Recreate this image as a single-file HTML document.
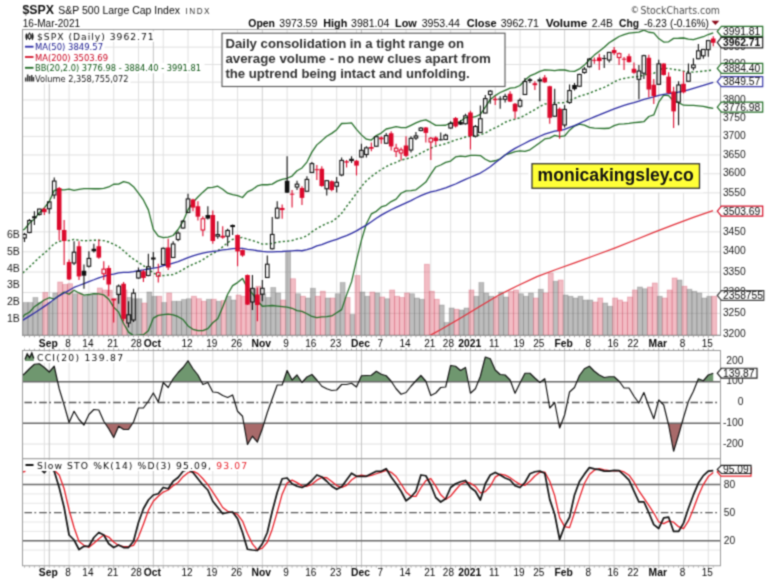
<!DOCTYPE html><html><head><meta charset="utf-8"><title>$SPX chart</title><style>html,body{margin:0;padding:0;background:#fff}svg{display:block}</style></head><body><svg width="768" height="581" viewBox="0 0 768 581" font-family='"Liberation Sans", sans-serif'>
<rect width="768" height="581" fill="#fff"/>
<defs><filter id="soft" x="0" y="0" width="100%" height="100%" filterUnits="userSpaceOnUse" primitiveUnits="userSpaceOnUse" color-interpolation-filters="sRGB"><feConvolveMatrix order="3" kernelMatrix="1 3 1 3 9 3 1 3 1" divisor="25" edgeMode="duplicate" preserveAlpha="false"/></filter></defs>
<g id="all" filter="url(#soft)">
<text x="22.5" y="14.2" font-size="12" font-weight="bold" fill="#111" textLength="31.5" lengthAdjust="spacingAndGlyphs">$SPX</text>
<text x="58.3" y="14.2" font-size="10.5" fill="#0c0c0c" textLength="121.7" lengthAdjust="spacingAndGlyphs">S&amp;P 500 Large Cap Index</text>
<text x="185.5" y="14.2" font-size="8.2" fill="#333" textLength="24" lengthAdjust="spacing">INDX</text>
<text x="22.8" y="26.6" font-size="10" fill="#0c0c0c">16-Mar-2021</text>
<text x="248.3" y="26.6" font-size="10.5" fill="#080808" font-weight="bold" textLength="26.7" lengthAdjust="spacingAndGlyphs">Open</text>
<text x="279.3" y="26.6" font-size="10.5" fill="#080808"  textLength="38" lengthAdjust="spacingAndGlyphs">3973.59</text>
<text x="323.3" y="26.6" font-size="10.5" fill="#080808" font-weight="bold" textLength="24" lengthAdjust="spacingAndGlyphs">High</text>
<text x="351" y="26.6" font-size="10.5" fill="#080808"  textLength="38.3" lengthAdjust="spacingAndGlyphs">3981.04</text>
<text x="395" y="26.6" font-size="10.5" fill="#080808" font-weight="bold" textLength="21.7" lengthAdjust="spacingAndGlyphs">Low</text>
<text x="421.7" y="26.6" font-size="10.5" fill="#080808"  textLength="38.3" lengthAdjust="spacingAndGlyphs">3953.44</text>
<text x="466.7" y="26.6" font-size="10.5" fill="#080808" font-weight="bold" textLength="30" lengthAdjust="spacingAndGlyphs">Close</text>
<text x="500.7" y="26.6" font-size="10.5" fill="#080808"  textLength="38.3" lengthAdjust="spacingAndGlyphs">3962.71</text>
<text x="545.7" y="26.6" font-size="10.5" fill="#080808" font-weight="bold" textLength="41.6" lengthAdjust="spacingAndGlyphs">Volume</text>
<text x="591.7" y="26.6" font-size="10.5" fill="#080808"  textLength="21.3" lengthAdjust="spacingAndGlyphs">2.4B</text>
<text x="619" y="26.6" font-size="10.5" fill="#080808" font-weight="bold" textLength="20" lengthAdjust="spacingAndGlyphs">Chg</text>
<text x="644" y="26.6" font-size="10.5" fill="#080808"  textLength="22.7" lengthAdjust="spacingAndGlyphs">-6.23</text>
<text x="670" y="26.6" font-size="10.5" fill="#080808"  textLength="39" lengthAdjust="spacingAndGlyphs">(-0.16%)</text>
<path d="M711.5 20.8 L719.3 20.8 L715.4 25 Z" fill="#8b0a1a"/>
<text x="630.4" y="13.2" font-size="8.6" fill="#444" font-family='"DejaVu Sans", sans-serif'>©</text>
<text x="640.5" y="13.5" font-size="10.6" fill="#4a4a4a" font-family='"DejaVu Sans", sans-serif' textLength="79.5" lengthAdjust="spacingAndGlyphs">StockCharts.com</text>
<rect x="22.5" y="29.5" width="698.0" height="306.0" fill="#fff" stroke="none"/>
<line x1="22.5" y1="334.53" x2="720.5" y2="334.53" stroke="#e0e0e0" stroke-width="1"/>
<line x1="22.5" y1="313.37" x2="720.5" y2="313.37" stroke="#e0e0e0" stroke-width="1"/>
<line x1="22.5" y1="292.53" x2="720.5" y2="292.53" stroke="#e0e0e0" stroke-width="1"/>
<line x1="22.5" y1="272.01" x2="720.5" y2="272.01" stroke="#e0e0e0" stroke-width="1"/>
<line x1="22.5" y1="251.79" x2="720.5" y2="251.79" stroke="#e0e0e0" stroke-width="1"/>
<line x1="22.5" y1="231.86" x2="720.5" y2="231.86" stroke="#e0e0e0" stroke-width="1"/>
<line x1="22.5" y1="212.22" x2="720.5" y2="212.22" stroke="#e0e0e0" stroke-width="1"/>
<line x1="22.5" y1="192.86" x2="720.5" y2="192.86" stroke="#e0e0e0" stroke-width="1"/>
<line x1="22.5" y1="173.77" x2="720.5" y2="173.77" stroke="#e0e0e0" stroke-width="1"/>
<line x1="22.5" y1="154.95" x2="720.5" y2="154.95" stroke="#e0e0e0" stroke-width="1"/>
<line x1="22.5" y1="136.38" x2="720.5" y2="136.38" stroke="#e0e0e0" stroke-width="1"/>
<line x1="22.5" y1="118.06" x2="720.5" y2="118.06" stroke="#e0e0e0" stroke-width="1"/>
<line x1="22.5" y1="99.98" x2="720.5" y2="99.98" stroke="#e0e0e0" stroke-width="1"/>
<line x1="22.5" y1="82.14" x2="720.5" y2="82.14" stroke="#e0e0e0" stroke-width="1"/>
<line x1="22.5" y1="64.53" x2="720.5" y2="64.53" stroke="#e0e0e0" stroke-width="1"/>
<line x1="22.5" y1="47.14" x2="720.5" y2="47.14" stroke="#e0e0e0" stroke-width="1"/>
<line x1="44.32" y1="29.5" x2="44.32" y2="335.5" stroke="#e0e0e0" stroke-width="1"/>
<line x1="69.09" y1="29.5" x2="69.09" y2="335.5" stroke="#e0e0e0" stroke-width="1"/>
<line x1="88.92" y1="29.5" x2="88.92" y2="335.5" stroke="#e0e0e0" stroke-width="1"/>
<line x1="113.69" y1="29.5" x2="113.69" y2="335.5" stroke="#e0e0e0" stroke-width="1"/>
<line x1="138.47" y1="29.5" x2="138.47" y2="335.5" stroke="#e0e0e0" stroke-width="1"/>
<line x1="163.24" y1="29.5" x2="163.24" y2="335.5" stroke="#e0e0e0" stroke-width="1"/>
<line x1="188.02" y1="29.5" x2="188.02" y2="335.5" stroke="#e0e0e0" stroke-width="1"/>
<line x1="212.79" y1="29.5" x2="212.79" y2="335.5" stroke="#e0e0e0" stroke-width="1"/>
<line x1="237.56" y1="29.5" x2="237.56" y2="335.5" stroke="#e0e0e0" stroke-width="1"/>
<line x1="287.12" y1="29.5" x2="287.12" y2="335.5" stroke="#e0e0e0" stroke-width="1"/>
<line x1="311.89" y1="29.5" x2="311.89" y2="335.5" stroke="#e0e0e0" stroke-width="1"/>
<line x1="336.67" y1="29.5" x2="336.67" y2="335.5" stroke="#e0e0e0" stroke-width="1"/>
<line x1="356.49" y1="29.5" x2="356.49" y2="335.5" stroke="#e0e0e0" stroke-width="1"/>
<line x1="381.26" y1="29.5" x2="381.26" y2="335.5" stroke="#e0e0e0" stroke-width="1"/>
<line x1="406.04" y1="29.5" x2="406.04" y2="335.5" stroke="#e0e0e0" stroke-width="1"/>
<line x1="430.81" y1="29.5" x2="430.81" y2="335.5" stroke="#e0e0e0" stroke-width="1"/>
<line x1="450.63" y1="29.5" x2="450.63" y2="335.5" stroke="#e0e0e0" stroke-width="1"/>
<line x1="495.23" y1="29.5" x2="495.23" y2="335.5" stroke="#e0e0e0" stroke-width="1"/>
<line x1="520" y1="29.5" x2="520" y2="335.5" stroke="#e0e0e0" stroke-width="1"/>
<line x1="539.82" y1="29.5" x2="539.82" y2="335.5" stroke="#e0e0e0" stroke-width="1"/>
<line x1="589.37" y1="29.5" x2="589.37" y2="335.5" stroke="#e0e0e0" stroke-width="1"/>
<line x1="614.14" y1="29.5" x2="614.14" y2="335.5" stroke="#e0e0e0" stroke-width="1"/>
<line x1="633.97" y1="29.5" x2="633.97" y2="335.5" stroke="#e0e0e0" stroke-width="1"/>
<line x1="683.51" y1="29.5" x2="683.51" y2="335.5" stroke="#e0e0e0" stroke-width="1"/>
<line x1="708.29" y1="29.5" x2="708.29" y2="335.5" stroke="#e0e0e0" stroke-width="1"/>
<line x1="49.27" y1="29.5" x2="49.27" y2="335.5" stroke="#c2c2c2" stroke-width="1"/>
<line x1="153.33" y1="29.5" x2="153.33" y2="335.5" stroke="#c2c2c2" stroke-width="1"/>
<line x1="262.34" y1="29.5" x2="262.34" y2="335.5" stroke="#d0d0d0" stroke-width="1"/>
<line x1="361.44" y1="29.5" x2="361.44" y2="335.5" stroke="#c2c2c2" stroke-width="1"/>
<line x1="470.45" y1="29.5" x2="470.45" y2="335.5" stroke="#d0d0d0" stroke-width="1"/>
<line x1="564.6" y1="29.5" x2="564.6" y2="335.5" stroke="#d0d0d0" stroke-width="1"/>
<line x1="658.74" y1="29.5" x2="658.74" y2="335.5" stroke="#d0d0d0" stroke-width="1"/>
<rect x="23.02" y="302.5" width="4.96" height="33" fill="rgba(118,118,118,0.48)" stroke="rgba(90,90,90,0.3)" stroke-width="0.8"/>
<rect x="27.98" y="302.5" width="4.96" height="33" fill="rgba(118,118,118,0.48)" stroke="rgba(90,90,90,0.3)" stroke-width="0.8"/>
<rect x="32.93" y="297.5" width="4.96" height="38" fill="rgba(118,118,118,0.48)" stroke="rgba(90,90,90,0.3)" stroke-width="0.8"/>
<rect x="37.89" y="302.5" width="4.96" height="33" fill="rgba(118,118,118,0.48)" stroke="rgba(90,90,90,0.3)" stroke-width="0.8"/>
<rect x="42.84" y="292.5" width="4.96" height="43" fill="rgba(222,78,100,0.38)" stroke="rgba(200,50,80,0.3)" stroke-width="0.8"/>
<rect x="47.8" y="302.5" width="4.96" height="33" fill="rgba(118,118,118,0.48)" stroke="rgba(90,90,90,0.3)" stroke-width="0.8"/>
<rect x="52.75" y="293" width="4.96" height="42.5" fill="rgba(118,118,118,0.48)" stroke="rgba(90,90,90,0.3)" stroke-width="0.8"/>
<rect x="57.71" y="282" width="4.96" height="53.5" fill="rgba(222,78,100,0.38)" stroke="rgba(200,50,80,0.3)" stroke-width="0.8"/>
<rect x="62.66" y="284.5" width="4.96" height="51" fill="rgba(222,78,100,0.38)" stroke="rgba(200,50,80,0.3)" stroke-width="0.8"/>
<rect x="67.62" y="283.75" width="4.96" height="51.75" fill="rgba(222,78,100,0.38)" stroke="rgba(200,50,80,0.3)" stroke-width="0.8"/>
<rect x="72.57" y="293.75" width="4.96" height="41.75" fill="rgba(118,118,118,0.48)" stroke="rgba(90,90,90,0.3)" stroke-width="0.8"/>
<rect x="77.53" y="293.75" width="4.96" height="41.75" fill="rgba(222,78,100,0.38)" stroke="rgba(200,50,80,0.3)" stroke-width="0.8"/>
<rect x="82.48" y="296.25" width="4.96" height="39.25" fill="rgba(118,118,118,0.48)" stroke="rgba(90,90,90,0.3)" stroke-width="0.8"/>
<rect x="87.44" y="295" width="4.96" height="40.5" fill="rgba(118,118,118,0.48)" stroke="rgba(90,90,90,0.3)" stroke-width="0.8"/>
<rect x="92.39" y="293.75" width="4.96" height="41.75" fill="rgba(118,118,118,0.48)" stroke="rgba(90,90,90,0.3)" stroke-width="0.8"/>
<rect x="97.35" y="288" width="4.96" height="47.5" fill="rgba(222,78,100,0.38)" stroke="rgba(200,50,80,0.3)" stroke-width="0.8"/>
<rect x="102.3" y="290" width="4.96" height="45.5" fill="rgba(222,78,100,0.38)" stroke="rgba(200,50,80,0.3)" stroke-width="0.8"/>
<rect x="107.26" y="290.2" width="4.96" height="45.3" fill="rgba(222,78,100,0.38)" stroke="rgba(200,50,80,0.3)" stroke-width="0.8"/>
<rect x="112.21" y="298.3" width="4.96" height="37.2" fill="rgba(222,78,100,0.38)" stroke="rgba(200,50,80,0.3)" stroke-width="0.8"/>
<rect x="117.17" y="293.75" width="4.96" height="41.75" fill="rgba(118,118,118,0.48)" stroke="rgba(90,90,90,0.3)" stroke-width="0.8"/>
<rect x="122.12" y="290" width="4.96" height="45.5" fill="rgba(222,78,100,0.38)" stroke="rgba(200,50,80,0.3)" stroke-width="0.8"/>
<rect x="127.08" y="297.5" width="4.96" height="38" fill="rgba(118,118,118,0.48)" stroke="rgba(90,90,90,0.3)" stroke-width="0.8"/>
<rect x="132.03" y="298.75" width="4.96" height="36.75" fill="rgba(118,118,118,0.48)" stroke="rgba(90,90,90,0.3)" stroke-width="0.8"/>
<rect x="136.99" y="298.75" width="4.96" height="36.75" fill="rgba(118,118,118,0.48)" stroke="rgba(90,90,90,0.3)" stroke-width="0.8"/>
<rect x="141.94" y="303" width="4.96" height="32.5" fill="rgba(222,78,100,0.38)" stroke="rgba(200,50,80,0.3)" stroke-width="0.8"/>
<rect x="146.9" y="292" width="4.96" height="43.5" fill="rgba(118,118,118,0.48)" stroke="rgba(90,90,90,0.3)" stroke-width="0.8"/>
<rect x="151.85" y="296.25" width="4.96" height="39.25" fill="rgba(118,118,118,0.48)" stroke="rgba(90,90,90,0.3)" stroke-width="0.8"/>
<rect x="156.81" y="296.25" width="4.96" height="39.25" fill="rgba(222,78,100,0.38)" stroke="rgba(200,50,80,0.3)" stroke-width="0.8"/>
<rect x="161.76" y="302.5" width="4.96" height="33" fill="rgba(118,118,118,0.48)" stroke="rgba(90,90,90,0.3)" stroke-width="0.8"/>
<rect x="166.72" y="293" width="4.96" height="42.5" fill="rgba(222,78,100,0.38)" stroke="rgba(200,50,80,0.3)" stroke-width="0.8"/>
<rect x="171.67" y="301.25" width="4.96" height="34.25" fill="rgba(118,118,118,0.48)" stroke="rgba(90,90,90,0.3)" stroke-width="0.8"/>
<rect x="176.63" y="301.25" width="4.96" height="34.25" fill="rgba(118,118,118,0.48)" stroke="rgba(90,90,90,0.3)" stroke-width="0.8"/>
<rect x="181.58" y="299.5" width="4.96" height="36" fill="rgba(118,118,118,0.48)" stroke="rgba(90,90,90,0.3)" stroke-width="0.8"/>
<rect x="186.54" y="298.75" width="4.96" height="36.75" fill="rgba(118,118,118,0.48)" stroke="rgba(90,90,90,0.3)" stroke-width="0.8"/>
<rect x="191.49" y="296.25" width="4.96" height="39.25" fill="rgba(222,78,100,0.38)" stroke="rgba(200,50,80,0.3)" stroke-width="0.8"/>
<rect x="196.45" y="298.75" width="4.96" height="36.75" fill="rgba(222,78,100,0.38)" stroke="rgba(200,50,80,0.3)" stroke-width="0.8"/>
<rect x="201.4" y="301.25" width="4.96" height="34.25" fill="rgba(222,78,100,0.38)" stroke="rgba(200,50,80,0.3)" stroke-width="0.8"/>
<rect x="206.36" y="299.25" width="4.96" height="36.25" fill="rgba(118,118,118,0.48)" stroke="rgba(90,90,90,0.3)" stroke-width="0.8"/>
<rect x="211.31" y="299.25" width="4.96" height="36.25" fill="rgba(222,78,100,0.38)" stroke="rgba(200,50,80,0.3)" stroke-width="0.8"/>
<rect x="216.27" y="301.25" width="4.96" height="34.25" fill="rgba(118,118,118,0.48)" stroke="rgba(90,90,90,0.3)" stroke-width="0.8"/>
<rect x="221.22" y="300.5" width="4.96" height="35" fill="rgba(222,78,100,0.38)" stroke="rgba(200,50,80,0.3)" stroke-width="0.8"/>
<rect x="226.18" y="296.25" width="4.96" height="39.25" fill="rgba(118,118,118,0.48)" stroke="rgba(90,90,90,0.3)" stroke-width="0.8"/>
<rect x="231.13" y="300" width="4.96" height="35.5" fill="rgba(118,118,118,0.48)" stroke="rgba(90,90,90,0.3)" stroke-width="0.8"/>
<rect x="236.09" y="295" width="4.96" height="40.5" fill="rgba(222,78,100,0.38)" stroke="rgba(200,50,80,0.3)" stroke-width="0.8"/>
<rect x="241.04" y="296.25" width="4.96" height="39.25" fill="rgba(222,78,100,0.38)" stroke="rgba(200,50,80,0.3)" stroke-width="0.8"/>
<rect x="246" y="288.75" width="4.96" height="46.75" fill="rgba(222,78,100,0.38)" stroke="rgba(200,50,80,0.3)" stroke-width="0.8"/>
<rect x="250.95" y="288.75" width="4.96" height="46.75" fill="rgba(118,118,118,0.48)" stroke="rgba(90,90,90,0.3)" stroke-width="0.8"/>
<rect x="255.91" y="286.25" width="4.96" height="49.25" fill="rgba(222,78,100,0.38)" stroke="rgba(200,50,80,0.3)" stroke-width="0.8"/>
<rect x="260.86" y="293.75" width="4.96" height="41.75" fill="rgba(118,118,118,0.48)" stroke="rgba(90,90,90,0.3)" stroke-width="0.8"/>
<rect x="265.82" y="297.5" width="4.96" height="38" fill="rgba(118,118,118,0.48)" stroke="rgba(90,90,90,0.3)" stroke-width="0.8"/>
<rect x="270.77" y="287.5" width="4.96" height="48" fill="rgba(118,118,118,0.48)" stroke="rgba(90,90,90,0.3)" stroke-width="0.8"/>
<rect x="275.73" y="293" width="4.96" height="42.5" fill="rgba(118,118,118,0.48)" stroke="rgba(90,90,90,0.3)" stroke-width="0.8"/>
<rect x="280.68" y="300" width="4.96" height="35.5" fill="rgba(222,78,100,0.38)" stroke="rgba(200,50,80,0.3)" stroke-width="0.8"/>
<rect x="285.64" y="251.25" width="4.96" height="84.25" fill="rgba(118,118,118,0.48)" stroke="rgba(90,90,90,0.3)" stroke-width="0.8"/>
<rect x="290.59" y="278.75" width="4.96" height="56.75" fill="rgba(222,78,100,0.38)" stroke="rgba(200,50,80,0.3)" stroke-width="0.8"/>
<rect x="295.55" y="293.75" width="4.96" height="41.75" fill="rgba(118,118,118,0.48)" stroke="rgba(90,90,90,0.3)" stroke-width="0.8"/>
<rect x="300.5" y="296.25" width="4.96" height="39.25" fill="rgba(222,78,100,0.38)" stroke="rgba(200,50,80,0.3)" stroke-width="0.8"/>
<rect x="305.46" y="298" width="4.96" height="37.5" fill="rgba(118,118,118,0.48)" stroke="rgba(90,90,90,0.3)" stroke-width="0.8"/>
<rect x="310.41" y="288.25" width="4.96" height="47.25" fill="rgba(118,118,118,0.48)" stroke="rgba(90,90,90,0.3)" stroke-width="0.8"/>
<rect x="315.37" y="296.25" width="4.96" height="39.25" fill="rgba(222,78,100,0.38)" stroke="rgba(200,50,80,0.3)" stroke-width="0.8"/>
<rect x="320.32" y="291.25" width="4.96" height="44.25" fill="rgba(222,78,100,0.38)" stroke="rgba(200,50,80,0.3)" stroke-width="0.8"/>
<rect x="325.28" y="298" width="4.96" height="37.5" fill="rgba(118,118,118,0.48)" stroke="rgba(90,90,90,0.3)" stroke-width="0.8"/>
<rect x="330.23" y="298" width="4.96" height="37.5" fill="rgba(222,78,100,0.38)" stroke="rgba(200,50,80,0.3)" stroke-width="0.8"/>
<rect x="335.19" y="293.75" width="4.96" height="41.75" fill="rgba(118,118,118,0.48)" stroke="rgba(90,90,90,0.3)" stroke-width="0.8"/>
<rect x="340.14" y="282.5" width="4.96" height="53" fill="rgba(118,118,118,0.48)" stroke="rgba(90,90,90,0.3)" stroke-width="0.8"/>
<rect x="345.1" y="297.5" width="4.96" height="38" fill="rgba(222,78,100,0.38)" stroke="rgba(200,50,80,0.3)" stroke-width="0.8"/>
<rect x="350.05" y="314.5" width="4.96" height="21" fill="rgba(118,118,118,0.48)" stroke="rgba(90,90,90,0.3)" stroke-width="0.8"/>
<rect x="355.01" y="275.5" width="4.96" height="60" fill="rgba(222,78,100,0.38)" stroke="rgba(200,50,80,0.3)" stroke-width="0.8"/>
<rect x="359.96" y="292" width="4.96" height="43.5" fill="rgba(118,118,118,0.48)" stroke="rgba(90,90,90,0.3)" stroke-width="0.8"/>
<rect x="364.92" y="296.25" width="4.96" height="39.25" fill="rgba(118,118,118,0.48)" stroke="rgba(90,90,90,0.3)" stroke-width="0.8"/>
<rect x="369.87" y="292" width="4.96" height="43.5" fill="rgba(222,78,100,0.38)" stroke="rgba(200,50,80,0.3)" stroke-width="0.8"/>
<rect x="374.83" y="293" width="4.96" height="42.5" fill="rgba(118,118,118,0.48)" stroke="rgba(90,90,90,0.3)" stroke-width="0.8"/>
<rect x="379.78" y="297" width="4.96" height="38.5" fill="rgba(222,78,100,0.38)" stroke="rgba(200,50,80,0.3)" stroke-width="0.8"/>
<rect x="384.74" y="298.75" width="4.96" height="36.75" fill="rgba(118,118,118,0.48)" stroke="rgba(90,90,90,0.3)" stroke-width="0.8"/>
<rect x="389.69" y="290" width="4.96" height="45.5" fill="rgba(222,78,100,0.38)" stroke="rgba(200,50,80,0.3)" stroke-width="0.8"/>
<rect x="394.65" y="296.25" width="4.96" height="39.25" fill="rgba(222,78,100,0.38)" stroke="rgba(200,50,80,0.3)" stroke-width="0.8"/>
<rect x="399.6" y="297.5" width="4.96" height="38" fill="rgba(222,78,100,0.38)" stroke="rgba(200,50,80,0.3)" stroke-width="0.8"/>
<rect x="404.56" y="293" width="4.96" height="42.5" fill="rgba(222,78,100,0.38)" stroke="rgba(200,50,80,0.3)" stroke-width="0.8"/>
<rect x="409.51" y="293.75" width="4.96" height="41.75" fill="rgba(118,118,118,0.48)" stroke="rgba(90,90,90,0.3)" stroke-width="0.8"/>
<rect x="414.47" y="298" width="4.96" height="37.5" fill="rgba(118,118,118,0.48)" stroke="rgba(90,90,90,0.3)" stroke-width="0.8"/>
<rect x="419.42" y="299.25" width="4.96" height="36.25" fill="rgba(118,118,118,0.48)" stroke="rgba(90,90,90,0.3)" stroke-width="0.8"/>
<rect x="424.38" y="264.25" width="4.96" height="71.25" fill="rgba(222,78,100,0.38)" stroke="rgba(200,50,80,0.3)" stroke-width="0.8"/>
<rect x="429.33" y="291.25" width="4.96" height="44.25" fill="rgba(222,78,100,0.38)" stroke="rgba(200,50,80,0.3)" stroke-width="0.8"/>
<rect x="434.29" y="299.25" width="4.96" height="36.25" fill="rgba(222,78,100,0.38)" stroke="rgba(200,50,80,0.3)" stroke-width="0.8"/>
<rect x="439.24" y="305" width="4.96" height="30.5" fill="rgba(118,118,118,0.48)" stroke="rgba(90,90,90,0.3)" stroke-width="0.8"/>
<rect x="444.2" y="322.5" width="4.96" height="13" fill="rgba(118,118,118,0.48)" stroke="rgba(90,90,90,0.3)" stroke-width="0.8"/>
<rect x="449.15" y="308" width="4.96" height="27.5" fill="rgba(118,118,118,0.48)" stroke="rgba(90,90,90,0.3)" stroke-width="0.8"/>
<rect x="454.11" y="309.25" width="4.96" height="26.25" fill="rgba(222,78,100,0.38)" stroke="rgba(200,50,80,0.3)" stroke-width="0.8"/>
<rect x="459.06" y="310" width="4.96" height="25.5" fill="rgba(118,118,118,0.48)" stroke="rgba(90,90,90,0.3)" stroke-width="0.8"/>
<rect x="464.02" y="308" width="4.96" height="27.5" fill="rgba(118,118,118,0.48)" stroke="rgba(90,90,90,0.3)" stroke-width="0.8"/>
<rect x="468.97" y="290" width="4.96" height="45.5" fill="rgba(222,78,100,0.38)" stroke="rgba(200,50,80,0.3)" stroke-width="0.8"/>
<rect x="473.93" y="296.25" width="4.96" height="39.25" fill="rgba(118,118,118,0.48)" stroke="rgba(90,90,90,0.3)" stroke-width="0.8"/>
<rect x="478.88" y="282.5" width="4.96" height="53" fill="rgba(118,118,118,0.48)" stroke="rgba(90,90,90,0.3)" stroke-width="0.8"/>
<rect x="483.84" y="293" width="4.96" height="42.5" fill="rgba(118,118,118,0.48)" stroke="rgba(90,90,90,0.3)" stroke-width="0.8"/>
<rect x="488.79" y="296.25" width="4.96" height="39.25" fill="rgba(118,118,118,0.48)" stroke="rgba(90,90,90,0.3)" stroke-width="0.8"/>
<rect x="493.75" y="297" width="4.96" height="38.5" fill="rgba(222,78,100,0.38)" stroke="rgba(200,50,80,0.3)" stroke-width="0.8"/>
<rect x="498.7" y="292" width="4.96" height="43.5" fill="rgba(118,118,118,0.48)" stroke="rgba(90,90,90,0.3)" stroke-width="0.8"/>
<rect x="503.66" y="297" width="4.96" height="38.5" fill="rgba(118,118,118,0.48)" stroke="rgba(90,90,90,0.3)" stroke-width="0.8"/>
<rect x="508.61" y="291.25" width="4.96" height="44.25" fill="rgba(222,78,100,0.38)" stroke="rgba(200,50,80,0.3)" stroke-width="0.8"/>
<rect x="513.57" y="290" width="4.96" height="45.5" fill="rgba(222,78,100,0.38)" stroke="rgba(200,50,80,0.3)" stroke-width="0.8"/>
<rect x="518.52" y="293.75" width="4.96" height="41.75" fill="rgba(118,118,118,0.48)" stroke="rgba(90,90,90,0.3)" stroke-width="0.8"/>
<rect x="523.48" y="296.25" width="4.96" height="39.25" fill="rgba(118,118,118,0.48)" stroke="rgba(90,90,90,0.3)" stroke-width="0.8"/>
<rect x="528.43" y="293" width="4.96" height="42.5" fill="rgba(118,118,118,0.48)" stroke="rgba(90,90,90,0.3)" stroke-width="0.8"/>
<rect x="533.39" y="298" width="4.96" height="37.5" fill="rgba(222,78,100,0.38)" stroke="rgba(200,50,80,0.3)" stroke-width="0.8"/>
<rect x="538.34" y="289.25" width="4.96" height="46.25" fill="rgba(118,118,118,0.48)" stroke="rgba(90,90,90,0.3)" stroke-width="0.8"/>
<rect x="543.3" y="293" width="4.96" height="42.5" fill="rgba(222,78,100,0.38)" stroke="rgba(200,50,80,0.3)" stroke-width="0.8"/>
<rect x="548.25" y="273" width="4.96" height="62.5" fill="rgba(222,78,100,0.38)" stroke="rgba(200,50,80,0.3)" stroke-width="0.8"/>
<rect x="553.21" y="281.25" width="4.96" height="54.25" fill="rgba(118,118,118,0.48)" stroke="rgba(90,90,90,0.3)" stroke-width="0.8"/>
<rect x="558.16" y="280" width="4.96" height="55.5" fill="rgba(222,78,100,0.38)" stroke="rgba(200,50,80,0.3)" stroke-width="0.8"/>
<rect x="563.12" y="295" width="4.96" height="40.5" fill="rgba(118,118,118,0.48)" stroke="rgba(90,90,90,0.3)" stroke-width="0.8"/>
<rect x="568.07" y="296.25" width="4.96" height="39.25" fill="rgba(118,118,118,0.48)" stroke="rgba(90,90,90,0.3)" stroke-width="0.8"/>
<rect x="573.03" y="298" width="4.96" height="37.5" fill="rgba(118,118,118,0.48)" stroke="rgba(90,90,90,0.3)" stroke-width="0.8"/>
<rect x="577.98" y="296.25" width="4.96" height="39.25" fill="rgba(118,118,118,0.48)" stroke="rgba(90,90,90,0.3)" stroke-width="0.8"/>
<rect x="582.94" y="300" width="4.96" height="35.5" fill="rgba(118,118,118,0.48)" stroke="rgba(90,90,90,0.3)" stroke-width="0.8"/>
<rect x="587.89" y="300" width="4.96" height="35.5" fill="rgba(118,118,118,0.48)" stroke="rgba(90,90,90,0.3)" stroke-width="0.8"/>
<rect x="592.85" y="302" width="4.96" height="33.5" fill="rgba(222,78,100,0.38)" stroke="rgba(200,50,80,0.3)" stroke-width="0.8"/>
<rect x="597.8" y="298" width="4.96" height="37.5" fill="rgba(222,78,100,0.38)" stroke="rgba(200,50,80,0.3)" stroke-width="0.8"/>
<rect x="602.76" y="303" width="4.96" height="32.5" fill="rgba(118,118,118,0.48)" stroke="rgba(90,90,90,0.3)" stroke-width="0.8"/>
<rect x="607.71" y="306.25" width="4.96" height="29.25" fill="rgba(118,118,118,0.48)" stroke="rgba(90,90,90,0.3)" stroke-width="0.8"/>
<rect x="612.67" y="298" width="4.96" height="37.5" fill="rgba(222,78,100,0.38)" stroke="rgba(200,50,80,0.3)" stroke-width="0.8"/>
<rect x="617.62" y="300" width="4.96" height="35.5" fill="rgba(222,78,100,0.38)" stroke="rgba(200,50,80,0.3)" stroke-width="0.8"/>
<rect x="622.58" y="302" width="4.96" height="33.5" fill="rgba(222,78,100,0.38)" stroke="rgba(200,50,80,0.3)" stroke-width="0.8"/>
<rect x="627.53" y="297" width="4.96" height="38.5" fill="rgba(222,78,100,0.38)" stroke="rgba(200,50,80,0.3)" stroke-width="0.8"/>
<rect x="632.49" y="290" width="4.96" height="45.5" fill="rgba(222,78,100,0.38)" stroke="rgba(200,50,80,0.3)" stroke-width="0.8"/>
<rect x="637.44" y="287" width="4.96" height="48.5" fill="rgba(118,118,118,0.48)" stroke="rgba(90,90,90,0.3)" stroke-width="0.8"/>
<rect x="642.4" y="288.75" width="4.96" height="46.75" fill="rgba(118,118,118,0.48)" stroke="rgba(90,90,90,0.3)" stroke-width="0.8"/>
<rect x="647.35" y="287" width="4.96" height="48.5" fill="rgba(222,78,100,0.38)" stroke="rgba(200,50,80,0.3)" stroke-width="0.8"/>
<rect x="652.31" y="283" width="4.96" height="52.5" fill="rgba(222,78,100,0.38)" stroke="rgba(200,50,80,0.3)" stroke-width="0.8"/>
<rect x="657.26" y="296.25" width="4.96" height="39.25" fill="rgba(118,118,118,0.48)" stroke="rgba(90,90,90,0.3)" stroke-width="0.8"/>
<rect x="662.22" y="298" width="4.96" height="37.5" fill="rgba(222,78,100,0.38)" stroke="rgba(200,50,80,0.3)" stroke-width="0.8"/>
<rect x="667.17" y="290" width="4.96" height="45.5" fill="rgba(222,78,100,0.38)" stroke="rgba(200,50,80,0.3)" stroke-width="0.8"/>
<rect x="672.13" y="278" width="4.96" height="57.5" fill="rgba(222,78,100,0.38)" stroke="rgba(200,50,80,0.3)" stroke-width="0.8"/>
<rect x="677.08" y="280" width="4.96" height="55.5" fill="rgba(118,118,118,0.48)" stroke="rgba(90,90,90,0.3)" stroke-width="0.8"/>
<rect x="682.04" y="286.25" width="4.96" height="49.25" fill="rgba(222,78,100,0.38)" stroke="rgba(200,50,80,0.3)" stroke-width="0.8"/>
<rect x="686.99" y="289.25" width="4.96" height="46.25" fill="rgba(118,118,118,0.48)" stroke="rgba(90,90,90,0.3)" stroke-width="0.8"/>
<rect x="691.95" y="291.25" width="4.96" height="44.25" fill="rgba(118,118,118,0.48)" stroke="rgba(90,90,90,0.3)" stroke-width="0.8"/>
<rect x="696.9" y="293" width="4.96" height="42.5" fill="rgba(118,118,118,0.48)" stroke="rgba(90,90,90,0.3)" stroke-width="0.8"/>
<rect x="701.86" y="298" width="4.96" height="37.5" fill="rgba(118,118,118,0.48)" stroke="rgba(90,90,90,0.3)" stroke-width="0.8"/>
<rect x="706.81" y="296.25" width="4.96" height="39.25" fill="rgba(118,118,118,0.48)" stroke="rgba(90,90,90,0.3)" stroke-width="0.8"/>
<rect x="711.77" y="296.25" width="4.96" height="39.25" fill="rgba(222,78,100,0.38)" stroke="rgba(200,50,80,0.3)" stroke-width="0.8"/>
<clipPath id="cpm"><rect x="22.5" y="29.5" width="698.0" height="306.0"/></clipPath>
<polyline points="19.55,231.26 24.5,229.25 29.45,223.04 34.41,218.9 39.37,212.72 44.32,207.86 49.27,201.48 54.23,190.45 59.19,189.68 64.14,189.93 69.09,189.09 74.05,190.29 79,189.34 83.96,188.62 88.92,188.72 93.87,188.77 98.83,188.75 103.78,188.45 108.73,186.99 113.69,184.24 118.64,184.06 123.6,181.67 128.56,182.76 133.51,186.71 138.47,193.18 143.42,199.94 148.38,209.84 153.33,229.4 158.28,236.19 163.24,237.71 168.19,237.03 173.15,235.5 178.1,229.47 183.06,221.46 188.02,209.65 192.97,202.31 197.93,197.07 202.88,192.16 207.84,187.76 212.79,187.46 217.75,186.18 222.7,189.3 227.66,193.15 232.61,194.72 237.56,195.67 242.52,197.5 247.47,191.85 252.43,189.57 257.38,185.95 262.34,184.67 267.3,184.74 272.25,184.14 277.21,181.16 282.16,179.47 287.12,178.27 292.07,176.05 297.02,170.71 301.98,167.95 306.94,162.06 311.89,152.16 316.85,144.87 321.8,140.64 326.75,136.2 331.71,133.39 336.67,129.65 341.62,123.48 346.57,123.3 351.53,122.81 356.49,129.31 361.44,134.87 366.39,139.14 371.35,140.1 376.31,135.59 381.26,133.05 386.22,129 391.17,127.87 396.12,126.65 401.08,127.66 406.04,127.67 410.99,125.29 415.94,122.85 420.9,120.81 425.86,119.88 430.81,122.45 435.76,125.4 440.72,125.32 445.68,125.23 450.63,122.89 455.58,123.09 460.54,121.27 465.5,117.6 470.45,117.71 475.41,116.73 480.36,114.4 485.31,107.19 490.27,99.43 495.23,95.58 500.18,92.51 505.13,90.35 510.09,88.22 515.05,87.59 520,85.49 524.95,80.12 529.91,75.95 534.87,73.79 539.82,71.44 544.77,69.82 549.73,70.07 554.69,70.58 559.64,69.94 564.6,70 569.55,71.09 574.5,71.39 579.46,68.92 584.41,65.08 589.37,59.7 594.33,55.11 599.28,51.21 604.24,47.35 609.19,42.79 614.14,39.59 619.1,36.49 624.06,34.6 629.01,33.16 633.97,32.65 638.92,32.17 643.88,30.08 648.83,32.26 653.78,32.89 658.74,38.58 663.7,42.09 668.65,41.81 673.61,38.38 678.56,38.25 683.51,38 688.47,39.15 693.42,39.6 698.38,38.12 703.34,36.73 708.29,34.53 713.25,32.77" fill="none" stroke="#256f29" stroke-width="1.3" stroke-linejoin="round" clip-path="url(#cpm)" />
<polyline points="19.55,322.23 24.5,314.88 29.45,312.25 34.41,306.69 39.37,303.4 44.32,300.03 49.27,297.72 54.23,299.09 59.19,295.54 64.14,292.13 69.09,294.23 74.05,290.23 79,292.95 83.96,295.07 88.92,294.52 93.87,293.68 98.83,293.88 103.78,294.94 108.73,299.26 113.69,307.1 118.64,312.14 123.6,323.48 128.56,332.13 133.51,335.65 138.47,335.13 143.42,334.68 148.38,330.79 153.33,318.13 158.28,315.4 163.24,314.56 168.19,314.06 173.15,314.82 178.1,316.69 183.06,319.53 188.02,325.94 192.97,329.26 197.93,330.64 202.88,330.69 207.84,328.58 212.79,322.73 217.75,318.76 222.7,307 227.66,294.22 232.61,285.64 237.56,282.6 242.52,278.39 247.47,288.2 252.43,293.58 257.38,300.75 262.34,306.25 267.3,305.83 272.25,305.48 277.21,306.09 282.16,306.59 287.12,307.23 292.07,308.27 297.02,310.65 301.98,311.46 306.94,313.77 311.89,316.48 316.85,317.72 321.8,316.95 326.75,316.61 331.71,315.94 336.67,312.8 341.62,309.59 346.57,294.87 351.53,281.88 356.49,260.33 361.44,240.15 366.39,223.71 371.35,213.94 376.31,211.35 381.26,206.93 386.22,205.32 391.17,201.57 396.12,199.17 401.08,193.24 406.04,190.84 410.99,190.72 415.94,189.78 420.9,185.98 425.86,182.1 430.81,174.19 435.76,166.99 440.72,165.01 445.68,162.34 450.63,161.1 455.58,156.94 460.54,156.21 465.5,156.72 470.45,155.33 475.41,155.3 480.36,155.6 485.31,159.26 490.27,161.65 495.23,160.74 500.18,158.79 505.13,154.98 510.09,153.44 515.05,151.6 520,150.94 524.95,151.28 529.91,149.78 534.87,146.33 539.82,142.67 544.77,138.95 549.73,138.12 554.69,135.36 559.64,136.68 564.6,135.96 569.55,130.2 574.5,126.1 579.46,124.15 584.41,125.11 589.37,127.42 594.33,128.17 599.28,128.31 604.24,128.49 609.19,128.23 614.14,125.61 619.1,124.07 624.06,123.81 629.01,123.4 633.97,122.66 638.92,122.23 643.88,121.69 648.83,116.5 653.78,114.97 658.74,102.19 663.7,95.07 668.65,95.6 673.61,101.39 678.56,102.59 683.51,105.21 688.47,105.46 693.42,105.43 698.38,105.92 703.34,106.42 708.29,107.5 713.25,108.27" fill="none" stroke="#256f29" stroke-width="1.3" stroke-linejoin="round" clip-path="url(#cpm)" />
<polyline points="19.55,275.99 24.5,271.4 29.45,266.92 34.41,262.09 39.37,257.31 44.32,253.17 49.27,248.75 54.23,243.69 59.19,241.58 64.14,240.07 69.09,240.64 74.05,239.35 79,240.16 83.96,240.81 88.92,240.6 93.87,240.22 98.83,240.3 103.78,240.66 108.73,241.97 113.69,244.29 118.64,246.6 123.6,250.74 128.56,255.4 133.51,259.15 138.47,262.31 143.42,265.65 148.38,268.97 153.33,273.04 158.28,275.22 163.24,275.6 168.19,275 173.15,274.58 178.1,272.39 183.06,269.62 188.02,266.55 192.97,264.31 197.93,262.22 202.88,259.67 207.84,256.35 212.79,253.42 217.75,250.86 222.7,246.88 227.66,242.75 232.61,239.43 237.56,238.44 242.52,237.35 247.47,239.17 252.43,240.58 257.38,242.14 262.34,244.11 267.3,243.94 272.25,243.46 277.21,242.19 282.16,241.55 287.12,241.23 292.07,240.56 297.02,238.89 301.98,237.82 306.94,235.81 311.89,231.85 316.85,228.56 321.8,225.95 326.75,223.43 331.71,221.62 336.67,218.15 341.62,213.37 346.57,206.39 351.53,200.03 356.49,193.25 361.44,186.49 366.39,180.77 371.35,176.52 376.31,172.94 381.26,169.49 386.22,166.62 391.17,164.23 396.12,162.43 401.08,160.06 406.04,158.89 410.99,157.62 415.94,155.9 420.9,153.01 425.86,150.63 430.81,148.07 435.76,146.03 440.72,145.02 445.68,143.66 450.63,141.86 455.58,139.91 460.54,138.62 465.5,137.02 470.45,136.39 475.41,135.88 480.36,134.84 485.31,132.97 490.27,130.18 495.23,127.77 500.18,125.25 505.13,122.28 510.09,120.44 515.05,119.22 520,117.83 524.95,115.24 529.91,112.37 534.87,109.58 539.82,106.59 544.77,103.95 549.73,103.67 554.69,102.58 559.64,102.9 564.6,102.58 569.55,100.33 574.5,98.47 579.46,96.26 584.41,94.77 589.37,93.14 594.33,91.15 599.28,89.21 604.24,87.32 609.19,84.84 614.14,81.92 619.1,79.58 624.06,78.48 629.01,77.53 633.97,76.91 638.92,76.45 643.88,75.12 648.83,73.73 653.78,73.31 658.74,70.01 663.7,68.32 668.65,68.44 673.61,69.52 678.56,70.04 683.51,71.19 688.47,71.9 693.42,72.12 698.38,71.6 703.34,71.13 708.29,70.53 713.25,70" fill="none" stroke="#256f29" stroke-width="1.4" stroke-linejoin="round" clip-path="url(#cpm)" stroke-dasharray="2.2 2.2"/>
<polyline points="19.55,322.29 24.5,319.1 29.45,316.12 34.41,313 39.37,309.71 44.32,306.34 49.27,302.93 54.23,299.19 59.19,295.83 64.14,292.98 69.09,290.31 74.05,287.46 79,285.5 83.96,283.64 88.92,281.56 93.87,279.75 98.83,277.78 103.78,276.25 108.73,274.88 113.69,274.1 118.64,272.79 123.6,272.47 128.56,272.3 133.51,271.63 138.47,270.6 143.42,269.92 148.38,269.06 153.33,268.2 158.28,267.29 163.24,265.72 168.19,264.74 173.15,263.11 178.1,261.58 183.06,259.72 188.02,257.6 192.97,255.84 197.93,254.38 202.88,253.13 207.84,252.05 212.79,251.44 217.75,250.78 222.7,249.96 227.66,249.37 232.61,248.63 237.56,248.41 242.52,248.34 247.47,249.29 252.43,249.81 257.38,250.74 262.34,251.43 267.3,251.93 272.25,251.93 277.21,251.68 282.16,251.48 287.12,251.14 292.07,250.78 297.02,250.41 301.98,250.76 306.94,249.72 311.89,248.11 316.85,245.89 321.8,244.54 326.75,242.61 331.71,240.88 336.67,239.34 341.62,237.47 346.57,235.54 351.53,233.3 356.49,230.91 361.44,227.9 366.39,225.12 371.35,221.74 376.31,218.19 381.26,215.11 386.22,212.37 391.17,209.74 396.12,207.37 401.08,205.17 406.04,202.85 410.99,200.64 415.94,198.01 420.9,195.68 425.86,193.65 430.81,191.98 435.76,190.8 440.72,189.44 445.68,187.79 450.63,185.86 455.58,184 460.54,181.68 465.5,179.29 470.45,177.27 475.41,175.2 480.36,173.05 485.31,170 490.27,166.73 495.23,162.74 500.18,159.06 505.13,155.01 510.09,151.39 515.05,148.41 520,145.77 524.95,143.24 529.91,140.69 534.87,138.54 539.82,136.25 544.77,134.21 549.73,132.64 554.69,131.15 559.64,130.51 564.6,129.3 569.55,127.4 574.5,125.59 579.46,123.29 584.41,121.03 589.37,118.99 594.33,116.94 599.28,114.96 604.24,112.83 609.19,110.85 614.14,108.94 619.1,107.03 624.06,105.48 629.01,103.93 633.97,102.68 638.92,101.18 643.88,99.33 648.83,98.14 653.78,96.97 658.74,95.48 663.7,94.27 668.65,93.58 673.61,93.15 678.56,92.1 683.51,91.15 688.47,89.82 693.42,88.43 698.38,86.98 703.34,85.44 708.29,83.76 713.25,82.29" fill="none" stroke="#2a2aa2" stroke-width="1.3" stroke-linejoin="round" clip-path="url(#cpm)" />
<polyline points="427.8,336.5 440,330 459,319 478,307.5 498,295.5 517,286 537,276.7 556,269.5 576,262.3 596,255 615.3,247.8 635,240 654.4,232.2 674,224.7 693.4,217.3 713,210.6" fill="none" stroke="#e2303a" stroke-width="1.3" clip-path="url(#cpm)"/>
<path d="M24.5 233V234.39M24.5 238V242" stroke="#111" stroke-width="1.1"/>
<rect x="22.7" y="234.39" width="3.6" height="3.61" fill="none" stroke="#111" stroke-width="1.1"/>
<path d="M29.45 219V220.54M29.45 232.5V233.25" stroke="#111" stroke-width="1.1"/>
<rect x="27.65" y="220.54" width="3.6" height="11.96" fill="none" stroke="#111" stroke-width="1.1"/>
<path d="M34.41 211.25V225" stroke="#111" stroke-width="1.1"/>
<rect x="32.11" y="216.25" width="4.6" height="2.01" fill="#111"/>
<path d="M39.37 208.75V209.1M39.37 214.5V215.5" stroke="#111" stroke-width="1.1"/>
<rect x="37.57" y="209.1" width="3.6" height="5.4" fill="none" stroke="#111" stroke-width="1.1"/>
<path d="M44.32 207.5V215" stroke="#dc0a2d" stroke-width="1.1"/>
<rect x="42.02" y="208.75" width="4.6" height="3.35" fill="#dc0a2d"/>
<path d="M49.27 201.87V201.87M49.27 208.75V213.75" stroke="#111" stroke-width="1.1"/>
<rect x="47.48" y="201.87" width="3.6" height="6.88" fill="none" stroke="#111" stroke-width="1.1"/>
<path d="M54.23 177.5V181.06M54.23 195V198.75" stroke="#111" stroke-width="1.1"/>
<rect x="52.43" y="181.06" width="3.6" height="13.94" fill="none" stroke="#111" stroke-width="1.1"/>
<path d="M59.19 187V240.5" stroke="#dc0a2d" stroke-width="1.1"/>
<rect x="56.89" y="188" width="4.6" height="41.86" fill="#dc0a2d"/>
<path d="M64.14 220V265" stroke="#dc0a2d" stroke-width="1.1"/>
<rect x="61.84" y="230" width="4.6" height="11.01" fill="#dc0a2d"/>
<path d="M69.09 259.5V280" stroke="#dc0a2d" stroke-width="1.1"/>
<rect x="66.8" y="262" width="4.6" height="17.43" fill="#dc0a2d"/>
<path d="M74.05 241.25V252.21M74.05 263V265" stroke="#111" stroke-width="1.1"/>
<rect x="72.25" y="252.21" width="3.6" height="10.79" fill="none" stroke="#111" stroke-width="1.1"/>
<path d="M79 241.25V280" stroke="#dc0a2d" stroke-width="1.1"/>
<rect x="76.7" y="246.25" width="4.6" height="30.17" fill="#dc0a2d"/>
<path d="M83.96 264.5V288.75" stroke="#111" stroke-width="1.1"/>
<rect x="81.66" y="270.75" width="4.6" height="4.94" fill="#111"/>
<path d="M88.92 251.25V258.41M88.92 266.25V267.5" stroke="#111" stroke-width="1.1"/>
<rect x="87.12" y="258.41" width="3.6" height="7.84" fill="none" stroke="#111" stroke-width="1.1"/>
<path d="M93.87 243.75V252.5" stroke="#111" stroke-width="1.1"/>
<rect x="91.57" y="248.75" width="4.6" height="2.56" fill="#111"/>
<path d="M98.83 239.5V258.75" stroke="#dc0a2d" stroke-width="1.1"/>
<rect x="96.53" y="246.25" width="4.6" height="11.37" fill="#dc0a2d"/>
<path d="M103.78 261.25V269.16M103.78 273.75V280" stroke="#dc0a2d" stroke-width="1.1"/>
<rect x="101.98" y="269.16" width="3.6" height="4.59" fill="none" stroke="#dc0a2d" stroke-width="1.1"/>
<path d="M108.73 265.5V296.25" stroke="#dc0a2d" stroke-width="1.1"/>
<rect x="106.44" y="268" width="4.6" height="16.5" fill="#dc0a2d"/>
<path d="M113.69 298.75V322.5" stroke="#dc0a2d" stroke-width="1.1"/>
<rect x="111.39" y="298.75" width="4.6" height="1.64" fill="#dc0a2d"/>
<path d="M118.64 284.5V286.11M118.64 294.5V303.75" stroke="#111" stroke-width="1.1"/>
<rect x="116.84" y="286.11" width="3.6" height="8.39" fill="none" stroke="#111" stroke-width="1.1"/>
<path d="M123.6 282V321.25" stroke="#dc0a2d" stroke-width="1.1"/>
<rect x="121.3" y="283.75" width="4.6" height="35.13" fill="#dc0a2d"/>
<path d="M128.56 301.25V314.8M128.56 323V327.5" stroke="#111" stroke-width="1.1"/>
<rect x="126.76" y="314.8" width="3.6" height="8.2" fill="none" stroke="#111" stroke-width="1.1"/>
<path d="M133.51 288.75V293.17M133.51 320V322" stroke="#111" stroke-width="1.1"/>
<rect x="131.71" y="293.17" width="3.6" height="26.83" fill="none" stroke="#111" stroke-width="1.1"/>
<path d="M138.47 267.5V271.36M138.47 278V278.75" stroke="#111" stroke-width="1.1"/>
<rect x="136.66" y="271.36" width="3.6" height="6.64" fill="none" stroke="#111" stroke-width="1.1"/>
<path d="M143.42 270V282" stroke="#dc0a2d" stroke-width="1.1"/>
<rect x="141.12" y="271.25" width="4.6" height="6.69" fill="#dc0a2d"/>
<path d="M148.38 253.75V266.72M148.38 275.5V276.25" stroke="#111" stroke-width="1.1"/>
<rect x="146.57" y="266.72" width="3.6" height="8.78" fill="none" stroke="#111" stroke-width="1.1"/>
<path d="M153.33 252V267.5" stroke="#111" stroke-width="1.1"/>
<rect x="151.03" y="257.5" width="4.6" height="2.02" fill="#111"/>
<path d="M158.28 263.75V272.65M158.28 276.25V282.5" stroke="#dc0a2d" stroke-width="1.1"/>
<rect x="156.48" y="272.65" width="3.6" height="3.6" fill="none" stroke="#dc0a2d" stroke-width="1.1"/>
<path d="M163.24 247.5V248.34M163.24 264.5V265" stroke="#111" stroke-width="1.1"/>
<rect x="161.44" y="248.34" width="3.6" height="16.16" fill="none" stroke="#111" stroke-width="1.1"/>
<path d="M168.19 238.75V270" stroke="#dc0a2d" stroke-width="1.1"/>
<rect x="165.89" y="247.5" width="4.6" height="20.05" fill="#dc0a2d"/>
<path d="M173.15 241.25V244.01M173.15 257.5V258" stroke="#111" stroke-width="1.1"/>
<rect x="171.35" y="244.01" width="3.6" height="13.49" fill="none" stroke="#111" stroke-width="1.1"/>
<path d="M178.1 231.25V233.12M178.1 239.5V241.25" stroke="#111" stroke-width="1.1"/>
<rect x="176.3" y="233.12" width="3.6" height="6.38" fill="none" stroke="#111" stroke-width="1.1"/>
<path d="M183.06 220V221.17M183.06 228V228.75" stroke="#111" stroke-width="1.1"/>
<rect x="181.26" y="221.17" width="3.6" height="6.83" fill="none" stroke="#111" stroke-width="1.1"/>
<path d="M188.02 193.75V198.94M188.02 212.5V213" stroke="#111" stroke-width="1.1"/>
<rect x="186.22" y="198.94" width="3.6" height="13.56" fill="none" stroke="#111" stroke-width="1.1"/>
<path d="M192.97 198.75V211.25" stroke="#dc0a2d" stroke-width="1.1"/>
<rect x="190.67" y="199.5" width="4.6" height="8.08" fill="#dc0a2d"/>
<path d="M197.93 201.25V220.5" stroke="#dc0a2d" stroke-width="1.1"/>
<rect x="195.62" y="206.25" width="4.6" height="10.4" fill="#dc0a2d"/>
<path d="M202.88 216.25V218.74M202.88 230V236.25" stroke="#dc0a2d" stroke-width="1.1"/>
<rect x="201.08" y="218.74" width="3.6" height="11.26" fill="none" stroke="#dc0a2d" stroke-width="1.1"/>
<path d="M207.84 206.25V219.5" stroke="#111" stroke-width="1.1"/>
<rect x="205.53" y="215" width="4.6" height="3.55" fill="#111"/>
<path d="M212.79 210.5V243.75" stroke="#dc0a2d" stroke-width="1.1"/>
<rect x="210.49" y="215" width="4.6" height="26.02" fill="#dc0a2d"/>
<path d="M217.75 221.25V234.59M217.75 236.19V238.75" stroke="#111" stroke-width="1.1"/>
<rect x="215.94" y="234.59" width="3.6" height="1.6" fill="none" stroke="#111" stroke-width="1.1"/>
<path d="M222.7 226.25V238.75" stroke="#dc0a2d" stroke-width="1.1"/>
<rect x="220.4" y="235.75" width="4.6" height="1.84" fill="#dc0a2d"/>
<path d="M227.66 228.75V230.48M227.66 236.25V246.25" stroke="#111" stroke-width="1.1"/>
<rect x="225.85" y="230.48" width="3.6" height="5.77" fill="none" stroke="#111" stroke-width="1.1"/>
<path d="M232.61 224.5V225.52M232.61 226.52V235" stroke="#111" stroke-width="1.1"/>
<rect x="230.81" y="225.52" width="3.6" height="1" fill="none" stroke="#111" stroke-width="1.1"/>
<path d="M237.56 234.5V266.25" stroke="#dc0a2d" stroke-width="1.1"/>
<rect x="235.26" y="235" width="4.6" height="16.4" fill="#dc0a2d"/>
<path d="M242.52 249.5V256.75" stroke="#dc0a2d" stroke-width="1.1"/>
<rect x="240.22" y="250" width="4.6" height="5.53" fill="#dc0a2d"/>
<path d="M247.47 274.5V305" stroke="#dc0a2d" stroke-width="1.1"/>
<rect x="245.17" y="275" width="4.6" height="29.57" fill="#dc0a2d"/>
<path d="M252.43 275V288.36M252.43 302V310" stroke="#111" stroke-width="1.1"/>
<rect x="250.63" y="288.36" width="3.6" height="13.64" fill="none" stroke="#111" stroke-width="1.1"/>
<path d="M257.38 287.5V321.25" stroke="#dc0a2d" stroke-width="1.1"/>
<rect x="255.08" y="294.5" width="4.6" height="10.51" fill="#dc0a2d"/>
<path d="M262.34 280V288.3M262.34 294.25V301.25" stroke="#111" stroke-width="1.1"/>
<rect x="260.54" y="288.3" width="3.6" height="5.95" fill="none" stroke="#111" stroke-width="1.1"/>
<path d="M267.3 255.5V264.22M267.3 277.5V278" stroke="#111" stroke-width="1.1"/>
<rect x="265.5" y="264.22" width="3.6" height="13.28" fill="none" stroke="#111" stroke-width="1.1"/>
<path d="M272.25 217V234.46M272.25 248.75V249.5" stroke="#111" stroke-width="1.1"/>
<rect x="270.45" y="234.46" width="3.6" height="14.29" fill="none" stroke="#111" stroke-width="1.1"/>
<path d="M277.21 201.25V208.15M277.21 218V218.75" stroke="#111" stroke-width="1.1"/>
<rect x="275.41" y="208.15" width="3.6" height="9.85" fill="none" stroke="#111" stroke-width="1.1"/>
<path d="M282.16 204.5V208.52M282.16 209.52V218.75" stroke="#dc0a2d" stroke-width="1.1"/>
<rect x="280.36" y="208.52" width="3.6" height="1" fill="none" stroke="#dc0a2d" stroke-width="1.1"/>
<path d="M287.12 156.25V193" stroke="#111" stroke-width="1.1"/>
<rect x="284.81" y="180.75" width="4.6" height="11.92" fill="#111"/>
<path d="M292.07 190V207.5" stroke="#dc0a2d" stroke-width="1.1"/>
<rect x="289.77" y="193.67" width="4.6" height="1" fill="#dc0a2d"/>
<path d="M297.02 180.75V184.18M297.02 187V190" stroke="#111" stroke-width="1.1"/>
<rect x="295.22" y="184.18" width="3.6" height="2.82" fill="none" stroke="#111" stroke-width="1.1"/>
<path d="M301.98 186.25V205" stroke="#dc0a2d" stroke-width="1.1"/>
<rect x="299.68" y="188" width="4.6" height="9.87" fill="#dc0a2d"/>
<path d="M306.94 176.25V179.42M306.94 191.25V191.75" stroke="#111" stroke-width="1.1"/>
<rect x="305.13" y="179.42" width="3.6" height="11.83" fill="none" stroke="#111" stroke-width="1.1"/>
<path d="M311.89 162V163.61M311.89 172.5V173" stroke="#111" stroke-width="1.1"/>
<rect x="310.09" y="163.61" width="3.6" height="8.89" fill="none" stroke="#111" stroke-width="1.1"/>
<path d="M316.85 165V180" stroke="#dc0a2d" stroke-width="1.1"/>
<rect x="314.55" y="169.21" width="4.6" height="1" fill="#dc0a2d"/>
<path d="M321.8 166.25V186.75" stroke="#dc0a2d" stroke-width="1.1"/>
<rect x="319.5" y="168.75" width="4.6" height="17.29" fill="#dc0a2d"/>
<path d="M326.75 180V180.66M326.75 188.75V195.5" stroke="#111" stroke-width="1.1"/>
<rect x="324.95" y="180.66" width="3.6" height="8.09" fill="none" stroke="#111" stroke-width="1.1"/>
<path d="M331.71 180.5V191.25" stroke="#dc0a2d" stroke-width="1.1"/>
<rect x="329.41" y="181.25" width="4.6" height="8.72" fill="#dc0a2d"/>
<path d="M336.67 177V182.3M336.67 186.25V192.5" stroke="#111" stroke-width="1.1"/>
<rect x="334.87" y="182.3" width="3.6" height="3.95" fill="none" stroke="#111" stroke-width="1.1"/>
<path d="M341.62 157.5V160.41M341.62 175V176.25" stroke="#111" stroke-width="1.1"/>
<rect x="339.82" y="160.41" width="3.6" height="14.59" fill="none" stroke="#111" stroke-width="1.1"/>
<path d="M346.57 160V167.5" stroke="#dc0a2d" stroke-width="1.1"/>
<rect x="344.27" y="161.25" width="4.6" height="1.33" fill="#dc0a2d"/>
<path d="M351.53 156.25V159.31M351.53 160.5V163" stroke="#111" stroke-width="1.1"/>
<rect x="349.73" y="159.31" width="3.6" height="1.19" fill="none" stroke="#111" stroke-width="1.1"/>
<path d="M356.49 160V175.5" stroke="#dc0a2d" stroke-width="1.1"/>
<rect x="354.19" y="160.75" width="4.6" height="4.85" fill="#dc0a2d"/>
<path d="M361.44 143.75V150.3M361.44 157V157.5" stroke="#111" stroke-width="1.1"/>
<rect x="359.64" y="150.3" width="3.6" height="6.7" fill="none" stroke="#111" stroke-width="1.1"/>
<path d="M366.39 146.25V147.86M366.39 154.5V157.5" stroke="#111" stroke-width="1.1"/>
<rect x="364.59" y="147.86" width="3.6" height="6.64" fill="none" stroke="#111" stroke-width="1.1"/>
<path d="M371.35 142.5V151.25" stroke="#dc0a2d" stroke-width="1.1"/>
<rect x="369.05" y="147" width="4.6" height="1.71" fill="#dc0a2d"/>
<path d="M376.31 136.25V136.7M376.31 146.25V147" stroke="#111" stroke-width="1.1"/>
<rect x="374.5" y="136.7" width="3.6" height="9.55" fill="none" stroke="#111" stroke-width="1.1"/>
<path d="M381.26 136.25V143.75" stroke="#dc0a2d" stroke-width="1.1"/>
<rect x="378.96" y="137.5" width="4.6" height="1.85" fill="#dc0a2d"/>
<path d="M386.22 133V135.55M386.22 143.25V144" stroke="#111" stroke-width="1.1"/>
<rect x="384.42" y="135.55" width="3.6" height="7.7" fill="none" stroke="#111" stroke-width="1.1"/>
<path d="M391.17 131.25V150.5" stroke="#dc0a2d" stroke-width="1.1"/>
<rect x="388.87" y="133.25" width="4.6" height="13.19" fill="#dc0a2d"/>
<path d="M396.12 143.75V148.2M396.12 151.25V157" stroke="#dc0a2d" stroke-width="1.1"/>
<rect x="394.32" y="148.2" width="3.6" height="3.05" fill="none" stroke="#dc0a2d" stroke-width="1.1"/>
<path d="M401.08 147.5V149.92M401.08 153V160.5" stroke="#dc0a2d" stroke-width="1.1"/>
<rect x="399.28" y="149.92" width="3.6" height="3.08" fill="none" stroke="#dc0a2d" stroke-width="1.1"/>
<path d="M406.04 136.25V157" stroke="#dc0a2d" stroke-width="1.1"/>
<rect x="403.74" y="145.5" width="4.6" height="10.39" fill="#dc0a2d"/>
<path d="M410.99 136.25V138.36M410.99 150V152.5" stroke="#111" stroke-width="1.1"/>
<rect x="409.19" y="138.36" width="3.6" height="11.64" fill="none" stroke="#111" stroke-width="1.1"/>
<path d="M415.94 132V135.95M415.94 138V140" stroke="#111" stroke-width="1.1"/>
<rect x="414.14" y="135.95" width="3.6" height="2.05" fill="none" stroke="#111" stroke-width="1.1"/>
<path d="M420.9 127V128.11M420.9 130.5V131.25" stroke="#111" stroke-width="1.1"/>
<rect x="419.1" y="128.11" width="3.6" height="2.39" fill="none" stroke="#111" stroke-width="1.1"/>
<path d="M425.86 127V142.5" stroke="#dc0a2d" stroke-width="1.1"/>
<rect x="423.56" y="127.5" width="4.6" height="5.41" fill="#dc0a2d"/>
<path d="M430.81 137V138.25M430.81 142V160" stroke="#dc0a2d" stroke-width="1.1"/>
<rect x="429.01" y="138.25" width="3.6" height="3.75" fill="none" stroke="#dc0a2d" stroke-width="1.1"/>
<path d="M435.76 136.25V145" stroke="#dc0a2d" stroke-width="1.1"/>
<rect x="433.46" y="137.5" width="4.6" height="3.59" fill="#dc0a2d"/>
<path d="M440.72 132.5V140.5" stroke="#111" stroke-width="1.1"/>
<rect x="438.42" y="139.28" width="4.6" height="1" fill="#111"/>
<path d="M445.68 133.75V135.25M445.68 139.5V140" stroke="#111" stroke-width="1.1"/>
<rect x="443.88" y="135.25" width="3.6" height="4.25" fill="none" stroke="#111" stroke-width="1.1"/>
<path d="M450.63 121.25V123.4M450.63 128V128.75" stroke="#111" stroke-width="1.1"/>
<rect x="448.83" y="123.4" width="3.6" height="4.6" fill="none" stroke="#111" stroke-width="1.1"/>
<path d="M455.58 117V127.5" stroke="#dc0a2d" stroke-width="1.1"/>
<rect x="453.28" y="118" width="4.6" height="8.44" fill="#dc0a2d"/>
<path d="M460.54 120V125" stroke="#111" stroke-width="1.1"/>
<rect x="458.24" y="122" width="4.6" height="2.61" fill="#111"/>
<path d="M465.5 113.75V115.85M465.5 123.75V124.5" stroke="#111" stroke-width="1.1"/>
<rect x="463.69" y="115.85" width="3.6" height="7.9" fill="none" stroke="#111" stroke-width="1.1"/>
<path d="M470.45 110.75V149.5" stroke="#dc0a2d" stroke-width="1.1"/>
<rect x="468.15" y="112.5" width="4.6" height="23.64" fill="#dc0a2d"/>
<path d="M475.41 125V126.51M475.41 136.25V137.5" stroke="#111" stroke-width="1.1"/>
<rect x="473.61" y="126.51" width="3.6" height="9.74" fill="none" stroke="#111" stroke-width="1.1"/>
<path d="M480.36 105.5V118.73M480.36 132.5V133" stroke="#111" stroke-width="1.1"/>
<rect x="478.56" y="118.73" width="3.6" height="13.77" fill="none" stroke="#111" stroke-width="1.1"/>
<path d="M485.31 95V98.62M485.31 113V113.5" stroke="#111" stroke-width="1.1"/>
<rect x="483.51" y="98.62" width="3.6" height="14.38" fill="none" stroke="#111" stroke-width="1.1"/>
<path d="M490.27 90V91.14M490.27 94.5V103.75" stroke="#111" stroke-width="1.1"/>
<rect x="488.47" y="91.14" width="3.6" height="3.36" fill="none" stroke="#111" stroke-width="1.1"/>
<path d="M495.23 96.25V105" stroke="#dc0a2d" stroke-width="1.1"/>
<rect x="492.93" y="98.75" width="4.6" height="1.37" fill="#dc0a2d"/>
<path d="M500.18 96.25V108.75" stroke="#111" stroke-width="1.1"/>
<rect x="497.88" y="98.65" width="4.6" height="1" fill="#111"/>
<path d="M505.13 93.75V96.45M505.13 99.25V102.5" stroke="#111" stroke-width="1.1"/>
<rect x="503.33" y="96.45" width="3.6" height="2.8" fill="none" stroke="#111" stroke-width="1.1"/>
<path d="M510.09 91.25V102" stroke="#dc0a2d" stroke-width="1.1"/>
<rect x="507.79" y="93.75" width="4.6" height="7.83" fill="#dc0a2d"/>
<path d="M515.05 103V118.75" stroke="#dc0a2d" stroke-width="1.1"/>
<rect x="512.75" y="103.75" width="4.6" height="7.68" fill="#dc0a2d"/>
<path d="M520 98.25V100.37M520 106.25V107.5" stroke="#111" stroke-width="1.1"/>
<rect x="518.2" y="100.37" width="3.6" height="5.88" fill="none" stroke="#111" stroke-width="1.1"/>
<path d="M524.95 78V81.48M524.95 94.5V95" stroke="#111" stroke-width="1.1"/>
<rect x="523.15" y="81.48" width="3.6" height="13.02" fill="none" stroke="#111" stroke-width="1.1"/>
<path d="M529.91 78V83" stroke="#111" stroke-width="1.1"/>
<rect x="527.61" y="79.25" width="4.6" height="1.8" fill="#111"/>
<path d="M534.87 81.25V90" stroke="#dc0a2d" stroke-width="1.1"/>
<rect x="532.57" y="83.25" width="4.6" height="1.91" fill="#dc0a2d"/>
<path d="M539.82 77.5V79.87M539.82 80.87V101.25" stroke="#111" stroke-width="1.1"/>
<rect x="538.02" y="79.87" width="3.6" height="1" fill="none" stroke="#111" stroke-width="1.1"/>
<path d="M544.77 75V83" stroke="#dc0a2d" stroke-width="1.1"/>
<rect x="542.48" y="77.5" width="4.6" height="4.77" fill="#dc0a2d"/>
<path d="M549.73 85.75V123.75" stroke="#dc0a2d" stroke-width="1.1"/>
<rect x="547.43" y="86.25" width="4.6" height="31.53" fill="#dc0a2d"/>
<path d="M554.69 88.75V104.52M554.69 116.25V117" stroke="#111" stroke-width="1.1"/>
<rect x="552.89" y="104.52" width="3.6" height="11.73" fill="none" stroke="#111" stroke-width="1.1"/>
<path d="M559.64 107.5V138.75" stroke="#dc0a2d" stroke-width="1.1"/>
<rect x="557.34" y="108.75" width="4.6" height="22.39" fill="#dc0a2d"/>
<path d="M564.6 105V109.4M564.6 125V127.5" stroke="#111" stroke-width="1.1"/>
<rect x="562.8" y="109.4" width="3.6" height="15.6" fill="none" stroke="#111" stroke-width="1.1"/>
<path d="M569.55 84.5V90.56M569.55 102.5V103.75" stroke="#111" stroke-width="1.1"/>
<rect x="567.75" y="90.56" width="3.6" height="11.94" fill="none" stroke="#111" stroke-width="1.1"/>
<path d="M574.5 83V90.5" stroke="#111" stroke-width="1.1"/>
<rect x="572.21" y="85" width="4.6" height="4.19" fill="#111"/>
<path d="M579.46 73.75V74.45M579.46 86.25V87" stroke="#111" stroke-width="1.1"/>
<rect x="577.66" y="74.45" width="3.6" height="11.8" fill="none" stroke="#111" stroke-width="1.1"/>
<path d="M584.41 67V69.14M584.41 72.5V73.75" stroke="#111" stroke-width="1.1"/>
<rect x="582.62" y="69.14" width="3.6" height="3.36" fill="none" stroke="#111" stroke-width="1.1"/>
<path d="M589.37 58V59.08M589.37 66.75V67.5" stroke="#111" stroke-width="1.1"/>
<rect x="587.57" y="59.08" width="3.6" height="7.67" fill="none" stroke="#111" stroke-width="1.1"/>
<path d="M594.33 57.5V63.75" stroke="#dc0a2d" stroke-width="1.1"/>
<rect x="592.03" y="59.8" width="4.6" height="1" fill="#dc0a2d"/>
<path d="M599.28 53.75V70" stroke="#dc0a2d" stroke-width="1.1"/>
<rect x="596.98" y="57.5" width="4.6" height="3.57" fill="#dc0a2d"/>
<path d="M604.24 55V68" stroke="#111" stroke-width="1.1"/>
<rect x="601.94" y="58.03" width="4.6" height="1" fill="#111"/>
<path d="M609.19 52V52.39M609.19 60V62.5" stroke="#111" stroke-width="1.1"/>
<rect x="607.39" y="52.39" width="3.6" height="7.61" fill="none" stroke="#111" stroke-width="1.1"/>
<path d="M614.14 47V55" stroke="#dc0a2d" stroke-width="1.1"/>
<rect x="611.85" y="50" width="4.6" height="3.17" fill="#dc0a2d"/>
<path d="M619.1 52.5V53.61M619.1 57.5V65" stroke="#dc0a2d" stroke-width="1.1"/>
<rect x="617.3" y="53.61" width="3.6" height="3.89" fill="none" stroke="#dc0a2d" stroke-width="1.1"/>
<path d="M624.06 57V70" stroke="#dc0a2d" stroke-width="1.1"/>
<rect x="621.76" y="58.7" width="4.6" height="1" fill="#dc0a2d"/>
<path d="M629.01 53.75V62.5" stroke="#dc0a2d" stroke-width="1.1"/>
<rect x="626.71" y="56.25" width="4.6" height="5.93" fill="#dc0a2d"/>
<path d="M633.97 62.5V73.75" stroke="#dc0a2d" stroke-width="1.1"/>
<rect x="631.67" y="68.75" width="4.6" height="4.03" fill="#dc0a2d"/>
<path d="M638.92 65.08V71.06M638.92 79.34V99.18" stroke="#111" stroke-width="1.1"/>
<rect x="637.12" y="71.06" width="3.6" height="8.27" fill="none" stroke="#111" stroke-width="1.1"/>
<path d="M643.88 54.87V55.66M643.88 73.17V78.95" stroke="#111" stroke-width="1.1"/>
<rect x="642.08" y="55.66" width="3.6" height="17.51" fill="none" stroke="#111" stroke-width="1.1"/>
<path d="M648.83 54.87V97.25" stroke="#dc0a2d" stroke-width="1.1"/>
<rect x="646.53" y="57.76" width="4.6" height="31.73" fill="#dc0a2d"/>
<path d="M653.78 78.95V104" stroke="#dc0a2d" stroke-width="1.1"/>
<rect x="651.49" y="84.73" width="4.6" height="11.25" fill="#dc0a2d"/>
<path d="M658.74 59.68V63.89M658.74 84.34V84.73" stroke="#111" stroke-width="1.1"/>
<rect x="656.94" y="63.89" width="3.6" height="20.46" fill="#d2d2d2" stroke="#111" stroke-width="1.1"/>
<path d="M663.7 63.15V75.48" stroke="#dc0a2d" stroke-width="1.1"/>
<rect x="661.4" y="63.54" width="4.6" height="11.43" fill="#dc0a2d"/>
<path d="M668.65 72.21V93.98" stroke="#dc0a2d" stroke-width="1.1"/>
<rect x="666.35" y="76.64" width="4.6" height="16.28" fill="#dc0a2d"/>
<path d="M673.61 86.66V128.08" stroke="#dc0a2d" stroke-width="1.1"/>
<rect x="671.31" y="91.47" width="4.6" height="19.88" fill="#dc0a2d"/>
<path d="M678.56 81.26V85M678.56 102.07V125.19" stroke="#111" stroke-width="1.1"/>
<rect x="676.76" y="85" width="3.6" height="17.07" fill="none" stroke="#111" stroke-width="1.1"/>
<path d="M683.51 71.24V93.4" stroke="#dc0a2d" stroke-width="1.1"/>
<rect x="681.22" y="83.77" width="4.6" height="8.57" fill="#dc0a2d"/>
<path d="M688.47 63.54V73.15M688.47 81.26V81.84" stroke="#111" stroke-width="1.1"/>
<rect x="686.67" y="73.15" width="3.6" height="8.11" fill="none" stroke="#111" stroke-width="1.1"/>
<path d="M693.42 58.14V64.94M693.42 67.77V70.28" stroke="#111" stroke-width="1.1"/>
<rect x="691.62" y="64.94" width="3.6" height="2.83" fill="none" stroke="#111" stroke-width="1.1"/>
<path d="M698.38 43.88V50.83M698.38 58.72V59.3" stroke="#111" stroke-width="1.1"/>
<rect x="696.58" y="50.83" width="3.6" height="7.89" fill="none" stroke="#111" stroke-width="1.1"/>
<path d="M703.34 49.08V49.44M703.34 55.83V58.72" stroke="#111" stroke-width="1.1"/>
<rect x="701.54" y="49.44" width="3.6" height="6.39" fill="none" stroke="#111" stroke-width="1.1"/>
<path d="M708.29 40.41V40.61M708.29 49.66V56.79" stroke="#111" stroke-width="1.1"/>
<rect x="706.49" y="40.61" width="3.6" height="9.05" fill="none" stroke="#111" stroke-width="1.1"/>
<path d="M713.25 36.18V46.19" stroke="#dc0a2d" stroke-width="1.1"/>
<rect x="710.95" y="38.49" width="4.6" height="4.27" fill="#dc0a2d"/>
<rect x="23.5" y="31.299999999999997" width="131" height="10.4" fill="#fff"/>
<text x="37" y="39.8" font-size="9.2" fill="#0c0c0c" font-family='"DejaVu Sans", sans-serif' textLength="116.7" lengthAdjust="spacing">$SPX (Daily) 3962.71</text>
<rect x="23.5" y="41.7" width="81" height="10.4" fill="#fff"/>
<text x="35" y="50.2" font-size="9.4" fill="#14148c" font-family='"DejaVu Sans Condensed", "DejaVu Sans", sans-serif' textLength="68" lengthAdjust="spacingAndGlyphs">MA(50) 3849.57</text>
<rect x="23.5" y="52.0" width="86" height="10.4" fill="#fff"/>
<text x="35" y="60.5" font-size="9.4" fill="#c8001c" font-family='"DejaVu Sans Condensed", "DejaVu Sans", sans-serif' textLength="73" lengthAdjust="spacingAndGlyphs">MA(200) 3503.69</text>
<rect x="23.5" y="62.8" width="181" height="10.4" fill="#fff"/>
<text x="35" y="71.3" font-size="9.4" fill="#0c5412" font-family='"DejaVu Sans Condensed", "DejaVu Sans", sans-serif' textLength="166" lengthAdjust="spacingAndGlyphs">BB(20,2.0) 3776.98 - 3884.40 - 3991.81</text>
<rect x="23.5" y="73.2" width="107" height="10.4" fill="#fff"/>
<text x="35" y="81.7" font-size="9.4" fill="#161616" font-family='"DejaVu Sans Condensed", "DejaVu Sans", sans-serif' textLength="93.5" lengthAdjust="spacingAndGlyphs">Volume 2,358,755,072</text>
<path d="M26.5 33.5v6.5M29.5 32.5v7.5" stroke="#111" stroke-width="1"/><rect x="25.5" y="34.5" width="2.2" height="4" fill="#111"/><rect x="28.4" y="34" width="2.2" height="4.5" fill="#fff" stroke="#111" stroke-width="0.8"/><rect x="31.3" y="34.5" width="2.2" height="4" fill="#111"/><path d="M32.4 33v7" stroke="#111" stroke-width="1"/>
<line x1="25" y1="46.7" x2="33.5" y2="46.7" stroke="#2b2ba8" stroke-width="1.8"/>
<line x1="25" y1="57" x2="33.5" y2="57" stroke="#d3122a" stroke-width="1.8"/>
<line x1="25" y1="67.8" x2="33.5" y2="67.8" stroke="#1e6a22" stroke-width="1.8"/>
<path d="M25.7 81.5v-4M27.7 81.5v-7M29.7 81.5v-5.5M31.7 81.5v-6.5M33.5 81.5v-4.5" stroke="#333" stroke-width="1.5"/>
<rect x="222" y="33.2" width="283" height="53.3" fill="#fff" stroke="#5a5a5a" stroke-width="1.15"/>
<text x="225.4" y="48.4" font-size="13.3" font-weight="bold" fill="#333" textLength="238.7" lengthAdjust="spacingAndGlyphs">Daily consolidation in a tight range on</text>
<text x="225.4" y="63.3" font-size="13.3" font-weight="bold" fill="#333" textLength="265.5" lengthAdjust="spacingAndGlyphs">average volume - no new clues apart from</text>
<text x="225.4" y="78.2" font-size="13.3" font-weight="bold" fill="#333" textLength="244.2" lengthAdjust="spacingAndGlyphs">the uptrend being intact and unfolding.</text>
<rect x="528.3" y="160.3" width="175" height="32.2" fill="#fff"/>
<rect x="532" y="163.75" width="167.5" height="24.5" fill="#ffff38" stroke="#333" stroke-width="1.3"/>
<text x="537.5" y="181.4" font-size="17.6" font-weight="bold" fill="#111" textLength="156.25" lengthAdjust="spacingAndGlyphs">monicakingsley.co</text>
<text x="7" y="322.2" font-size="10.5" fill="#1a1a1a">1B</text>
<text x="7" y="305.3" font-size="10.5" fill="#1a1a1a">2B</text>
<text x="7" y="288.4" font-size="10.5" fill="#1a1a1a">3B</text>
<text x="7" y="271.5" font-size="10.5" fill="#1a1a1a">4B</text>
<text x="7" y="254.6" font-size="10.5" fill="#1a1a1a">5B</text>
<text x="7" y="237.7" font-size="10.5" fill="#1a1a1a">6B</text>
<rect x="22.5" y="29.5" width="698.0" height="306.0" fill="none" stroke="#9a9a9a" stroke-width="1"/>
<text x="722.9" y="337.23" font-size="10.3" fill="#1a1a1a">3200</text>
<text x="722.9" y="316.07" font-size="10.3" fill="#1a1a1a">3250</text>
<text x="722.9" y="295.23" font-size="10.3" fill="#1a1a1a">3300</text>
<text x="722.9" y="274.71" font-size="10.3" fill="#1a1a1a">3350</text>
<text x="722.9" y="254.49" font-size="10.3" fill="#1a1a1a">3400</text>
<text x="722.9" y="234.56" font-size="10.3" fill="#1a1a1a">3450</text>
<text x="722.9" y="214.92" font-size="10.3" fill="#1a1a1a">3500</text>
<text x="722.9" y="195.56" font-size="10.3" fill="#1a1a1a">3550</text>
<text x="722.9" y="176.47" font-size="10.3" fill="#1a1a1a">3600</text>
<text x="722.9" y="157.65" font-size="10.3" fill="#1a1a1a">3650</text>
<text x="722.9" y="139.08" font-size="10.3" fill="#1a1a1a">3700</text>
<text x="722.9" y="120.76" font-size="10.3" fill="#1a1a1a">3750</text>
<text x="722.9" y="102.68" font-size="10.3" fill="#1a1a1a">3800</text>
<text x="722.9" y="84.84" font-size="10.3" fill="#1a1a1a">3850</text>
<text x="722.9" y="67.23" font-size="10.3" fill="#1a1a1a">3900</text>
<text x="722.9" y="49.84" font-size="10.3" fill="#1a1a1a">3950</text>
<path d="M717.3 68.4 L721.4 63.45 H762.7 V73.35 H721.4 Z" fill="#fff" stroke="#256f29" stroke-width="1.2" stroke-linejoin="miter"/>
<text x="723" y="72.05" font-size="10.2" fill="#0c0c0c"  textLength="37.17" lengthAdjust="spacingAndGlyphs">3884.40</text>
<path d="M717.3 81.65 L721.4 76.7 H762.7 V86.6 H721.4 Z" fill="#fff" stroke="#3a3aa8" stroke-width="1.2" stroke-linejoin="miter"/>
<text x="723" y="85.3" font-size="10.2" fill="#0c0c0c"  textLength="37.17" lengthAdjust="spacingAndGlyphs">3849.57</text>
<path d="M717.3 107.15 L721.4 102.2 H762.7 V112.1 H721.4 Z" fill="#fff" stroke="#256f29" stroke-width="1.2" stroke-linejoin="miter"/>
<text x="723" y="110.8" font-size="10.2" fill="#0c0c0c"  textLength="37.17" lengthAdjust="spacingAndGlyphs">3776.98</text>
<path d="M717.3 211.09 L721.4 206.14 H762.7 V216.04 H721.4 Z" fill="#fff" stroke="#d3122a" stroke-width="1.2" stroke-linejoin="miter"/>
<text x="723" y="214.74" font-size="10.2" fill="#0c0c0c"  textLength="37.17" lengthAdjust="spacingAndGlyphs">3503.69</text>
<path d="M717.3 295.5 L721.4 290.55 H763.8 V300.45 H721.4 Z" fill="#fff" stroke="#444" stroke-width="1.2" stroke-linejoin="miter"/>
<text x="723" y="299.15" font-size="10.2" fill="#0c0c0c"  textLength="40.04" lengthAdjust="spacingAndGlyphs">2358755</text>
<path d="M717.3 31.4 L721.4 26.45 H762.7 V36.35 H721.4 Z" fill="#fff" stroke="#256f29" stroke-width="1.2" stroke-linejoin="miter"/>
<text x="723" y="35.05" font-size="10.2" fill="#0c0c0c"  textLength="37.17" lengthAdjust="spacingAndGlyphs">3991.81</text>
<path d="M717.3 42.6 L721.4 37.4 H762.7 V47.8 H721.4 Z" fill="#fff" stroke="#222" stroke-width="1.2" stroke-linejoin="miter"/>
<text x="723" y="46.25" font-size="10.2" fill="#0c0c0c" font-weight="bold" textLength="37.17" lengthAdjust="spacingAndGlyphs">3962.71</text>
<path d="M24.5 336.0v1.3M29.45 336.0v1.3M34.41 336.0v1.3M39.37 336.0v1.3M44.32 336.0v2.2M49.27 336.0v1.3M54.23 336.0v1.3M59.19 336.0v1.3M64.14 336.0v1.3M69.09 336.0v2.2M74.05 336.0v1.3M79 336.0v1.3M83.96 336.0v1.3M88.92 336.0v2.2M93.87 336.0v1.3M98.83 336.0v1.3M103.78 336.0v1.3M108.73 336.0v1.3M113.69 336.0v2.2M118.64 336.0v1.3M123.6 336.0v1.3M128.56 336.0v1.3M133.51 336.0v1.3M138.47 336.0v2.2M143.42 336.0v1.3M148.38 336.0v1.3M153.33 336.0v1.3M158.28 336.0v1.3M163.24 336.0v2.2M168.19 336.0v1.3M173.15 336.0v1.3M178.1 336.0v1.3M183.06 336.0v1.3M188.02 336.0v2.2M192.97 336.0v1.3M197.93 336.0v1.3M202.88 336.0v1.3M207.84 336.0v1.3M212.79 336.0v2.2M217.75 336.0v1.3M222.7 336.0v1.3M227.66 336.0v1.3M232.61 336.0v1.3M237.56 336.0v2.2M242.52 336.0v1.3M247.47 336.0v1.3M252.43 336.0v1.3M257.38 336.0v1.3M262.34 336.0v2.2M267.3 336.0v1.3M272.25 336.0v1.3M277.21 336.0v1.3M282.16 336.0v1.3M287.12 336.0v2.2M292.07 336.0v1.3M297.02 336.0v1.3M301.98 336.0v1.3M306.94 336.0v1.3M311.89 336.0v2.2M316.85 336.0v1.3M321.8 336.0v1.3M326.75 336.0v1.3M331.71 336.0v1.3M336.67 336.0v2.2M341.62 336.0v1.3M346.57 336.0v1.3M351.53 336.0v1.3M356.49 336.0v2.2M361.44 336.0v1.3M366.39 336.0v1.3M371.35 336.0v1.3M376.31 336.0v1.3M381.26 336.0v2.2M386.22 336.0v1.3M391.17 336.0v1.3M396.12 336.0v1.3M401.08 336.0v1.3M406.04 336.0v2.2M410.99 336.0v1.3M415.94 336.0v1.3M420.9 336.0v1.3M425.86 336.0v1.3M430.81 336.0v2.2M435.76 336.0v1.3M440.72 336.0v1.3M445.68 336.0v1.3M450.63 336.0v2.2M455.58 336.0v1.3M460.54 336.0v1.3M465.5 336.0v1.3M470.45 336.0v2.2M475.41 336.0v1.3M480.36 336.0v1.3M485.31 336.0v1.3M490.27 336.0v1.3M495.23 336.0v2.2M500.18 336.0v1.3M505.13 336.0v1.3M510.09 336.0v1.3M515.05 336.0v1.3M520 336.0v2.2M524.95 336.0v1.3M529.91 336.0v1.3M534.87 336.0v1.3M539.82 336.0v2.2M544.77 336.0v1.3M549.73 336.0v1.3M554.69 336.0v1.3M559.64 336.0v1.3M564.6 336.0v2.2M569.55 336.0v1.3M574.5 336.0v1.3M579.46 336.0v1.3M584.41 336.0v1.3M589.37 336.0v2.2M594.33 336.0v1.3M599.28 336.0v1.3M604.24 336.0v1.3M609.19 336.0v1.3M614.14 336.0v2.2M619.1 336.0v1.3M624.06 336.0v1.3M629.01 336.0v1.3M633.97 336.0v2.2M638.92 336.0v1.3M643.88 336.0v1.3M648.83 336.0v1.3M653.78 336.0v1.3M658.74 336.0v2.2M663.7 336.0v1.3M668.65 336.0v1.3M673.61 336.0v1.3M678.56 336.0v1.3M683.51 336.0v2.2M688.47 336.0v1.3M693.42 336.0v1.3M698.38 336.0v1.3M703.34 336.0v1.3M708.29 336.0v2.2M713.25 336.0v1.3" stroke="#9a9a9a" stroke-width="0.9"/>
<path d="M24.5 350.0v-1.3M29.45 350.0v-1.3M34.41 350.0v-1.3M39.37 350.0v-1.3M44.32 350.0v-2.2M49.27 350.0v-1.3M54.23 350.0v-1.3M59.19 350.0v-1.3M64.14 350.0v-1.3M69.09 350.0v-2.2M74.05 350.0v-1.3M79 350.0v-1.3M83.96 350.0v-1.3M88.92 350.0v-2.2M93.87 350.0v-1.3M98.83 350.0v-1.3M103.78 350.0v-1.3M108.73 350.0v-1.3M113.69 350.0v-2.2M118.64 350.0v-1.3M123.6 350.0v-1.3M128.56 350.0v-1.3M133.51 350.0v-1.3M138.47 350.0v-2.2M143.42 350.0v-1.3M148.38 350.0v-1.3M153.33 350.0v-1.3M158.28 350.0v-1.3M163.24 350.0v-2.2M168.19 350.0v-1.3M173.15 350.0v-1.3M178.1 350.0v-1.3M183.06 350.0v-1.3M188.02 350.0v-2.2M192.97 350.0v-1.3M197.93 350.0v-1.3M202.88 350.0v-1.3M207.84 350.0v-1.3M212.79 350.0v-2.2M217.75 350.0v-1.3M222.7 350.0v-1.3M227.66 350.0v-1.3M232.61 350.0v-1.3M237.56 350.0v-2.2M242.52 350.0v-1.3M247.47 350.0v-1.3M252.43 350.0v-1.3M257.38 350.0v-1.3M262.34 350.0v-2.2M267.3 350.0v-1.3M272.25 350.0v-1.3M277.21 350.0v-1.3M282.16 350.0v-1.3M287.12 350.0v-2.2M292.07 350.0v-1.3M297.02 350.0v-1.3M301.98 350.0v-1.3M306.94 350.0v-1.3M311.89 350.0v-2.2M316.85 350.0v-1.3M321.8 350.0v-1.3M326.75 350.0v-1.3M331.71 350.0v-1.3M336.67 350.0v-2.2M341.62 350.0v-1.3M346.57 350.0v-1.3M351.53 350.0v-1.3M356.49 350.0v-2.2M361.44 350.0v-1.3M366.39 350.0v-1.3M371.35 350.0v-1.3M376.31 350.0v-1.3M381.26 350.0v-2.2M386.22 350.0v-1.3M391.17 350.0v-1.3M396.12 350.0v-1.3M401.08 350.0v-1.3M406.04 350.0v-2.2M410.99 350.0v-1.3M415.94 350.0v-1.3M420.9 350.0v-1.3M425.86 350.0v-1.3M430.81 350.0v-2.2M435.76 350.0v-1.3M440.72 350.0v-1.3M445.68 350.0v-1.3M450.63 350.0v-2.2M455.58 350.0v-1.3M460.54 350.0v-1.3M465.5 350.0v-1.3M470.45 350.0v-2.2M475.41 350.0v-1.3M480.36 350.0v-1.3M485.31 350.0v-1.3M490.27 350.0v-1.3M495.23 350.0v-2.2M500.18 350.0v-1.3M505.13 350.0v-1.3M510.09 350.0v-1.3M515.05 350.0v-1.3M520 350.0v-2.2M524.95 350.0v-1.3M529.91 350.0v-1.3M534.87 350.0v-1.3M539.82 350.0v-2.2M544.77 350.0v-1.3M549.73 350.0v-1.3M554.69 350.0v-1.3M559.64 350.0v-1.3M564.6 350.0v-2.2M569.55 350.0v-1.3M574.5 350.0v-1.3M579.46 350.0v-1.3M584.41 350.0v-1.3M589.37 350.0v-2.2M594.33 350.0v-1.3M599.28 350.0v-1.3M604.24 350.0v-1.3M609.19 350.0v-1.3M614.14 350.0v-2.2M619.1 350.0v-1.3M624.06 350.0v-1.3M629.01 350.0v-1.3M633.97 350.0v-2.2M638.92 350.0v-1.3M643.88 350.0v-1.3M648.83 350.0v-1.3M653.78 350.0v-1.3M658.74 350.0v-2.2M663.7 350.0v-1.3M668.65 350.0v-1.3M673.61 350.0v-1.3M678.56 350.0v-1.3M683.51 350.0v-2.2M688.47 350.0v-1.3M693.42 350.0v-1.3M698.38 350.0v-1.3M703.34 350.0v-1.3M708.29 350.0v-2.2M713.25 350.0v-1.3" stroke="#9a9a9a" stroke-width="0.9"/>
<text x="48.27" y="347.4" text-anchor="middle" font-size="10.3" font-weight="bold" fill="#080808">Sep</text>
<text x="68.09" y="347.4" text-anchor="middle" font-size="10"  fill="#080808">8</text>
<text x="87.92" y="347.4" text-anchor="middle" font-size="10"  fill="#080808">14</text>
<text x="112.69" y="347.4" text-anchor="middle" font-size="10"  fill="#080808">21</text>
<text x="136.27" y="347.4" text-anchor="middle" font-size="10"  fill="#080808">28</text>
<text x="152.33" y="347.4" text-anchor="middle" font-size="10.3" font-weight="bold" fill="#080808">Oct</text>
<text x="187.02" y="347.4" text-anchor="middle" font-size="10"  fill="#080808">12</text>
<text x="211.79" y="347.4" text-anchor="middle" font-size="10"  fill="#080808">19</text>
<text x="236.56" y="347.4" text-anchor="middle" font-size="10"  fill="#080808">26</text>
<text x="261.34" y="347.4" text-anchor="middle" font-size="10.3" font-weight="bold" fill="#080808">Nov</text>
<text x="286.12" y="347.4" text-anchor="middle" font-size="10"  fill="#080808">9</text>
<text x="310.89" y="347.4" text-anchor="middle" font-size="10"  fill="#080808">16</text>
<text x="335.67" y="347.4" text-anchor="middle" font-size="10"  fill="#080808">23</text>
<text x="360.44" y="347.4" text-anchor="middle" font-size="10.3" font-weight="bold" fill="#080808">Dec</text>
<text x="380.26" y="347.4" text-anchor="middle" font-size="10"  fill="#080808">7</text>
<text x="405.04" y="347.4" text-anchor="middle" font-size="10"  fill="#080808">14</text>
<text x="429.81" y="347.4" text-anchor="middle" font-size="10"  fill="#080808">21</text>
<text x="448.43" y="347.4" text-anchor="middle" font-size="10"  fill="#080808">28</text>
<text x="469.75" y="347.4" text-anchor="middle" font-size="10.3" font-weight="bold" fill="#080808">2021</text>
<text x="494.23" y="347.4" text-anchor="middle" font-size="10"  fill="#080808">11</text>
<text x="519" y="347.4" text-anchor="middle" font-size="10"  fill="#080808">19</text>
<text x="538.82" y="347.4" text-anchor="middle" font-size="10"  fill="#080808">25</text>
<text x="563.6" y="347.4" text-anchor="middle" font-size="10.3" font-weight="bold" fill="#080808">Feb</text>
<text x="588.37" y="347.4" text-anchor="middle" font-size="10"  fill="#080808">8</text>
<text x="613.14" y="347.4" text-anchor="middle" font-size="10"  fill="#080808">16</text>
<text x="632.97" y="347.4" text-anchor="middle" font-size="10"  fill="#080808">22</text>
<text x="657.74" y="347.4" text-anchor="middle" font-size="10.3" font-weight="bold" fill="#080808">Mar</text>
<text x="682.51" y="347.4" text-anchor="middle" font-size="10"  fill="#080808">8</text>
<text x="707.29" y="347.4" text-anchor="middle" font-size="10"  fill="#080808">15</text>
<rect x="22.5" y="350.5" width="698.0" height="108.25" fill="#fff"/>
<line x1="22.5" y1="361" x2="720.5" y2="361" stroke="#e0e0e0"/>
<line x1="22.5" y1="444" x2="720.5" y2="444" stroke="#e0e0e0"/>
<line x1="44.32" y1="350.5" x2="44.32" y2="458.75" stroke="#e0e0e0" stroke-width="1"/>
<line x1="69.09" y1="350.5" x2="69.09" y2="458.75" stroke="#e0e0e0" stroke-width="1"/>
<line x1="88.92" y1="350.5" x2="88.92" y2="458.75" stroke="#e0e0e0" stroke-width="1"/>
<line x1="113.69" y1="350.5" x2="113.69" y2="458.75" stroke="#e0e0e0" stroke-width="1"/>
<line x1="138.47" y1="350.5" x2="138.47" y2="458.75" stroke="#e0e0e0" stroke-width="1"/>
<line x1="163.24" y1="350.5" x2="163.24" y2="458.75" stroke="#e0e0e0" stroke-width="1"/>
<line x1="188.02" y1="350.5" x2="188.02" y2="458.75" stroke="#e0e0e0" stroke-width="1"/>
<line x1="212.79" y1="350.5" x2="212.79" y2="458.75" stroke="#e0e0e0" stroke-width="1"/>
<line x1="237.56" y1="350.5" x2="237.56" y2="458.75" stroke="#e0e0e0" stroke-width="1"/>
<line x1="287.12" y1="350.5" x2="287.12" y2="458.75" stroke="#e0e0e0" stroke-width="1"/>
<line x1="311.89" y1="350.5" x2="311.89" y2="458.75" stroke="#e0e0e0" stroke-width="1"/>
<line x1="336.67" y1="350.5" x2="336.67" y2="458.75" stroke="#e0e0e0" stroke-width="1"/>
<line x1="356.49" y1="350.5" x2="356.49" y2="458.75" stroke="#e0e0e0" stroke-width="1"/>
<line x1="381.26" y1="350.5" x2="381.26" y2="458.75" stroke="#e0e0e0" stroke-width="1"/>
<line x1="406.04" y1="350.5" x2="406.04" y2="458.75" stroke="#e0e0e0" stroke-width="1"/>
<line x1="430.81" y1="350.5" x2="430.81" y2="458.75" stroke="#e0e0e0" stroke-width="1"/>
<line x1="450.63" y1="350.5" x2="450.63" y2="458.75" stroke="#e0e0e0" stroke-width="1"/>
<line x1="495.23" y1="350.5" x2="495.23" y2="458.75" stroke="#e0e0e0" stroke-width="1"/>
<line x1="520" y1="350.5" x2="520" y2="458.75" stroke="#e0e0e0" stroke-width="1"/>
<line x1="539.82" y1="350.5" x2="539.82" y2="458.75" stroke="#e0e0e0" stroke-width="1"/>
<line x1="589.37" y1="350.5" x2="589.37" y2="458.75" stroke="#e0e0e0" stroke-width="1"/>
<line x1="614.14" y1="350.5" x2="614.14" y2="458.75" stroke="#e0e0e0" stroke-width="1"/>
<line x1="633.97" y1="350.5" x2="633.97" y2="458.75" stroke="#e0e0e0" stroke-width="1"/>
<line x1="683.51" y1="350.5" x2="683.51" y2="458.75" stroke="#e0e0e0" stroke-width="1"/>
<line x1="708.29" y1="350.5" x2="708.29" y2="458.75" stroke="#e0e0e0" stroke-width="1"/>
<line x1="49.27" y1="350.5" x2="49.27" y2="458.75" stroke="#c2c2c2" stroke-width="1"/>
<line x1="153.33" y1="350.5" x2="153.33" y2="458.75" stroke="#c2c2c2" stroke-width="1"/>
<line x1="262.34" y1="350.5" x2="262.34" y2="458.75" stroke="#d0d0d0" stroke-width="1"/>
<line x1="361.44" y1="350.5" x2="361.44" y2="458.75" stroke="#c2c2c2" stroke-width="1"/>
<line x1="470.45" y1="350.5" x2="470.45" y2="458.75" stroke="#d0d0d0" stroke-width="1"/>
<line x1="564.6" y1="350.5" x2="564.6" y2="458.75" stroke="#d0d0d0" stroke-width="1"/>
<line x1="658.74" y1="350.5" x2="658.74" y2="458.75" stroke="#d0d0d0" stroke-width="1"/>
<clipPath id="c1"><rect x="22.5" y="350.5" width="698.0" height="31.25"/></clipPath>
<path d="M22.5 381.75 L22.5 375.25 L24.5 373.75 L29.45 368.75 L34.41 364.25 L39.37 363.75 L44.32 367.5 L49.27 372 L54.23 366.25 L59.19 388.75 L64.14 405 L69.09 422.5 L74.05 411.25 L79 419.5 L83.96 425 L88.92 414.5 L93.87 409.5 L98.83 410 L103.78 421.25 L108.73 428.75 L113.69 437.5 L118.64 426.25 L123.6 429.5 L128.56 429.5 L133.51 422 L138.47 408 L143.42 408 L148.38 401.25 L153.33 393 L158.28 402 L163.24 382.5 L168.19 387.5 L173.15 378.75 L178.1 372.5 L183.06 367.5 L188.02 360.75 L192.97 368.75 L197.93 375 L202.88 384.5 L207.84 382.5 L212.79 392 L217.75 392.5 L222.7 395.5 L227.66 397.5 L232.61 395 L237.56 411.25 L242.52 416.25 L247.47 444.5 L252.43 436.25 L257.38 442 L262.34 428.75 L267.3 412.5 L272.25 398.75 L277.21 385 L282.16 385 L287.12 370.5 L292.07 380 L297.02 375 L301.98 382.5 L306.94 377 L311.89 374.5 L316.85 380 L321.8 386.25 L326.75 388.75 L331.71 390.5 L336.67 390 L341.62 384.5 L346.57 384.5 L351.53 383.25 L356.49 387 L361.44 375.75 L366.39 375.5 L371.35 375.25 L376.31 371.25 L381.26 374.25 L386.22 375.75 L391.17 381.25 L396.12 388.75 L401.08 394.25 L406.04 392.5 L410.99 386.25 L415.94 380.75 L420.9 375.5 L425.86 381.25 L430.81 395.5 L435.76 393 L440.72 387.5 L445.68 387 L450.63 365.5 L455.58 366.25 L460.54 370.5 L465.5 367.5 L470.45 393.25 L475.41 388.75 L480.36 376.25 L485.31 357 L490.27 358.75 L495.23 370 L500.18 374.5 L505.13 375 L510.09 380 L515.05 393.25 L520 383 L524.95 373.25 L529.91 373.25 L534.87 378 L539.82 382.5 L544.77 378.75 L549.73 408 L554.69 402.5 L559.64 428 L564.6 415 L569.55 392 L574.5 387.5 L579.46 375.5 L584.41 368.75 L589.37 366.25 L594.33 371.25 L599.28 375 L604.24 377.5 L609.19 376.75 L614.14 376.75 L619.1 381.25 L624.06 388 L629.01 388 L633.97 396.25 L638.92 403 L643.88 392.5 L648.83 406.25 L653.78 418.75 L658.74 400 L663.7 405 L668.65 425 L673.61 451.25 L678.56 435 L683.51 417.5 L688.47 401.25 L693.42 391.25 L698.38 378.75 L703.34 380.75 L708.29 375 L713.25 373.25 L713.25 381.75 Z" fill="#6f976f" clip-path="url(#c1)"/>
<clipPath id="c2"><rect x="22.5" y="423.25" width="698.0" height="35.5"/></clipPath>
<path d="M22.5 423.25 L22.5 375.25 L24.5 373.75 L29.45 368.75 L34.41 364.25 L39.37 363.75 L44.32 367.5 L49.27 372 L54.23 366.25 L59.19 388.75 L64.14 405 L69.09 422.5 L74.05 411.25 L79 419.5 L83.96 425 L88.92 414.5 L93.87 409.5 L98.83 410 L103.78 421.25 L108.73 428.75 L113.69 437.5 L118.64 426.25 L123.6 429.5 L128.56 429.5 L133.51 422 L138.47 408 L143.42 408 L148.38 401.25 L153.33 393 L158.28 402 L163.24 382.5 L168.19 387.5 L173.15 378.75 L178.1 372.5 L183.06 367.5 L188.02 360.75 L192.97 368.75 L197.93 375 L202.88 384.5 L207.84 382.5 L212.79 392 L217.75 392.5 L222.7 395.5 L227.66 397.5 L232.61 395 L237.56 411.25 L242.52 416.25 L247.47 444.5 L252.43 436.25 L257.38 442 L262.34 428.75 L267.3 412.5 L272.25 398.75 L277.21 385 L282.16 385 L287.12 370.5 L292.07 380 L297.02 375 L301.98 382.5 L306.94 377 L311.89 374.5 L316.85 380 L321.8 386.25 L326.75 388.75 L331.71 390.5 L336.67 390 L341.62 384.5 L346.57 384.5 L351.53 383.25 L356.49 387 L361.44 375.75 L366.39 375.5 L371.35 375.25 L376.31 371.25 L381.26 374.25 L386.22 375.75 L391.17 381.25 L396.12 388.75 L401.08 394.25 L406.04 392.5 L410.99 386.25 L415.94 380.75 L420.9 375.5 L425.86 381.25 L430.81 395.5 L435.76 393 L440.72 387.5 L445.68 387 L450.63 365.5 L455.58 366.25 L460.54 370.5 L465.5 367.5 L470.45 393.25 L475.41 388.75 L480.36 376.25 L485.31 357 L490.27 358.75 L495.23 370 L500.18 374.5 L505.13 375 L510.09 380 L515.05 393.25 L520 383 L524.95 373.25 L529.91 373.25 L534.87 378 L539.82 382.5 L544.77 378.75 L549.73 408 L554.69 402.5 L559.64 428 L564.6 415 L569.55 392 L574.5 387.5 L579.46 375.5 L584.41 368.75 L589.37 366.25 L594.33 371.25 L599.28 375 L604.24 377.5 L609.19 376.75 L614.14 376.75 L619.1 381.25 L624.06 388 L629.01 388 L633.97 396.25 L638.92 403 L643.88 392.5 L648.83 406.25 L653.78 418.75 L658.74 400 L663.7 405 L668.65 425 L673.61 451.25 L678.56 435 L683.51 417.5 L688.47 401.25 L693.42 391.25 L698.38 378.75 L703.34 380.75 L708.29 375 L713.25 373.25 L713.25 423.25 Z" fill="#a86a6a" clip-path="url(#c2)"/>
<line x1="22.5" y1="381.75" x2="720.5" y2="381.75" stroke="#686868" stroke-width="1.3"/>
<line x1="22.5" y1="423.25" x2="720.5" y2="423.25" stroke="#686868" stroke-width="1.3"/>
<line x1="22.5" y1="402.5" x2="720.5" y2="402.5" stroke="#5a5a5a" stroke-width="1.3" stroke-dasharray="7.6 2.4 1.8 3" stroke-dashoffset="12.9"/>
<polyline points="22.5,375.25 24.5,373.75 29.45,368.75 34.41,364.25 39.37,363.75 44.32,367.5 49.27,372 54.23,366.25 59.19,388.75 64.14,405 69.09,422.5 74.05,411.25 79,419.5 83.96,425 88.92,414.5 93.87,409.5 98.83,410 103.78,421.25 108.73,428.75 113.69,437.5 118.64,426.25 123.6,429.5 128.56,429.5 133.51,422 138.47,408 143.42,408 148.38,401.25 153.33,393 158.28,402 163.24,382.5 168.19,387.5 173.15,378.75 178.1,372.5 183.06,367.5 188.02,360.75 192.97,368.75 197.93,375 202.88,384.5 207.84,382.5 212.79,392 217.75,392.5 222.7,395.5 227.66,397.5 232.61,395 237.56,411.25 242.52,416.25 247.47,444.5 252.43,436.25 257.38,442 262.34,428.75 267.3,412.5 272.25,398.75 277.21,385 282.16,385 287.12,370.5 292.07,380 297.02,375 301.98,382.5 306.94,377 311.89,374.5 316.85,380 321.8,386.25 326.75,388.75 331.71,390.5 336.67,390 341.62,384.5 346.57,384.5 351.53,383.25 356.49,387 361.44,375.75 366.39,375.5 371.35,375.25 376.31,371.25 381.26,374.25 386.22,375.75 391.17,381.25 396.12,388.75 401.08,394.25 406.04,392.5 410.99,386.25 415.94,380.75 420.9,375.5 425.86,381.25 430.81,395.5 435.76,393 440.72,387.5 445.68,387 450.63,365.5 455.58,366.25 460.54,370.5 465.5,367.5 470.45,393.25 475.41,388.75 480.36,376.25 485.31,357 490.27,358.75 495.23,370 500.18,374.5 505.13,375 510.09,380 515.05,393.25 520,383 524.95,373.25 529.91,373.25 534.87,378 539.82,382.5 544.77,378.75 549.73,408 554.69,402.5 559.64,428 564.6,415 569.55,392 574.5,387.5 579.46,375.5 584.41,368.75 589.37,366.25 594.33,371.25 599.28,375 604.24,377.5 609.19,376.75 614.14,376.75 619.1,381.25 624.06,388 629.01,388 633.97,396.25 638.92,403 643.88,392.5 648.83,406.25 653.78,418.75 658.74,400 663.7,405 668.65,425 673.61,451.25 678.56,435 683.51,417.5 688.47,401.25 693.42,391.25 698.38,378.75 703.34,380.75 708.29,375 713.25,373.25" fill="none" stroke="#141414" stroke-width="1.2" stroke-linejoin="round"/>
<rect x="23.5" y="352" width="103" height="11" fill="#fff"/>
<path d="M25 361 L25 359.5 L27.2 354 L29.6 357.6 L31.8 353 L33.8 358.5 V361 Z" fill="#6f976f"/><path d="M25 359.5 L27.2 354 L29.6 357.6 L31.8 353 L33.8 358.5" fill="none" stroke="#111" stroke-width="1.3"/>
<text x="37" y="361.2" font-size="9.2" fill="#0c0c0c" font-family='"DejaVu Sans", sans-serif' textLength="86" lengthAdjust="spacing">CCI(20) 139.87</text>
<rect x="22.5" y="350.5" width="698.0" height="108.25" fill="none" stroke="#9a9a9a"/>
<text x="743.5" text-anchor="end" y="363.7" font-size="10.3" fill="#1a1a1a">200</text>
<text x="743.5" text-anchor="end" y="384.45" font-size="10.3" fill="#1a1a1a">100</text>
<text x="743.5" text-anchor="end" y="405.2" font-size="10.3" fill="#1a1a1a">0</text>
<text x="743.5" text-anchor="end" y="425.95" font-size="10.3" fill="#1a1a1a">-100</text>
<text x="743.5" text-anchor="end" y="446.7" font-size="10.3" fill="#1a1a1a">-200</text>
<path d="M717.3 373.2 L721.4 368.25 H757 V378.15 H721.4 Z" fill="#fff" stroke="#222" stroke-width="1.2" stroke-linejoin="miter"/>
<text x="723" y="376.85" font-size="10.2" fill="#0c0c0c"  textLength="31.45" lengthAdjust="spacingAndGlyphs">139.87</text>
<rect x="22.5" y="458.75" width="698.0" height="107.0" fill="#fff"/>
<line x1="22.5" y1="550.12" x2="720.5" y2="550.12" stroke="#e6e6e6"/>
<line x1="22.5" y1="531.38" x2="720.5" y2="531.38" stroke="#e6e6e6"/>
<line x1="22.5" y1="522" x2="720.5" y2="522" stroke="#e6e6e6"/>
<line x1="22.5" y1="503.25" x2="720.5" y2="503.25" stroke="#e6e6e6"/>
<line x1="22.5" y1="493.88" x2="720.5" y2="493.88" stroke="#e6e6e6"/>
<line x1="22.5" y1="475.12" x2="720.5" y2="475.12" stroke="#e6e6e6"/>
<line x1="44.32" y1="458.75" x2="44.32" y2="565.75" stroke="#e0e0e0" stroke-width="1"/>
<line x1="69.09" y1="458.75" x2="69.09" y2="565.75" stroke="#e0e0e0" stroke-width="1"/>
<line x1="88.92" y1="458.75" x2="88.92" y2="565.75" stroke="#e0e0e0" stroke-width="1"/>
<line x1="113.69" y1="458.75" x2="113.69" y2="565.75" stroke="#e0e0e0" stroke-width="1"/>
<line x1="138.47" y1="458.75" x2="138.47" y2="565.75" stroke="#e0e0e0" stroke-width="1"/>
<line x1="163.24" y1="458.75" x2="163.24" y2="565.75" stroke="#e0e0e0" stroke-width="1"/>
<line x1="188.02" y1="458.75" x2="188.02" y2="565.75" stroke="#e0e0e0" stroke-width="1"/>
<line x1="212.79" y1="458.75" x2="212.79" y2="565.75" stroke="#e0e0e0" stroke-width="1"/>
<line x1="237.56" y1="458.75" x2="237.56" y2="565.75" stroke="#e0e0e0" stroke-width="1"/>
<line x1="287.12" y1="458.75" x2="287.12" y2="565.75" stroke="#e0e0e0" stroke-width="1"/>
<line x1="311.89" y1="458.75" x2="311.89" y2="565.75" stroke="#e0e0e0" stroke-width="1"/>
<line x1="336.67" y1="458.75" x2="336.67" y2="565.75" stroke="#e0e0e0" stroke-width="1"/>
<line x1="356.49" y1="458.75" x2="356.49" y2="565.75" stroke="#e0e0e0" stroke-width="1"/>
<line x1="381.26" y1="458.75" x2="381.26" y2="565.75" stroke="#e0e0e0" stroke-width="1"/>
<line x1="406.04" y1="458.75" x2="406.04" y2="565.75" stroke="#e0e0e0" stroke-width="1"/>
<line x1="430.81" y1="458.75" x2="430.81" y2="565.75" stroke="#e0e0e0" stroke-width="1"/>
<line x1="450.63" y1="458.75" x2="450.63" y2="565.75" stroke="#e0e0e0" stroke-width="1"/>
<line x1="495.23" y1="458.75" x2="495.23" y2="565.75" stroke="#e0e0e0" stroke-width="1"/>
<line x1="520" y1="458.75" x2="520" y2="565.75" stroke="#e0e0e0" stroke-width="1"/>
<line x1="539.82" y1="458.75" x2="539.82" y2="565.75" stroke="#e0e0e0" stroke-width="1"/>
<line x1="589.37" y1="458.75" x2="589.37" y2="565.75" stroke="#e0e0e0" stroke-width="1"/>
<line x1="614.14" y1="458.75" x2="614.14" y2="565.75" stroke="#e0e0e0" stroke-width="1"/>
<line x1="633.97" y1="458.75" x2="633.97" y2="565.75" stroke="#e0e0e0" stroke-width="1"/>
<line x1="683.51" y1="458.75" x2="683.51" y2="565.75" stroke="#e0e0e0" stroke-width="1"/>
<line x1="708.29" y1="458.75" x2="708.29" y2="565.75" stroke="#e0e0e0" stroke-width="1"/>
<line x1="49.27" y1="458.75" x2="49.27" y2="565.75" stroke="#c2c2c2" stroke-width="1"/>
<line x1="153.33" y1="458.75" x2="153.33" y2="565.75" stroke="#c2c2c2" stroke-width="1"/>
<line x1="262.34" y1="458.75" x2="262.34" y2="565.75" stroke="#d0d0d0" stroke-width="1"/>
<line x1="361.44" y1="458.75" x2="361.44" y2="565.75" stroke="#c2c2c2" stroke-width="1"/>
<line x1="470.45" y1="458.75" x2="470.45" y2="565.75" stroke="#d0d0d0" stroke-width="1"/>
<line x1="564.6" y1="458.75" x2="564.6" y2="565.75" stroke="#d0d0d0" stroke-width="1"/>
<line x1="658.74" y1="458.75" x2="658.74" y2="565.75" stroke="#d0d0d0" stroke-width="1"/>
<line x1="22.5" y1="484.5" x2="720.5" y2="484.5" stroke="#686868" stroke-width="1.3"/>
<line x1="22.5" y1="540.75" x2="720.5" y2="540.75" stroke="#686868" stroke-width="1.3"/>
<line x1="22.5" y1="512.62" x2="720.5" y2="512.62" stroke="#5a5a5a" stroke-width="1.3" stroke-dasharray="7.6 2.4 1.8 3" stroke-dashoffset="12.9"/>
<polyline points="24.5,468.5 29.45,468.5 34.41,468.5 39.37,468.33 44.32,469.73 49.27,469.07 54.23,470.15 59.19,475.08 64.14,488.75 69.09,510 74.05,527.5 79,541.5 83.96,545.25 88.92,547.33 93.87,543.33 98.83,538.75 103.78,535 108.73,537.08 113.69,542.08 118.64,545.42 123.6,546.67 128.56,546.67 133.51,545.42 138.47,537.08 143.42,524.17 148.38,510.42 153.33,501.25 158.28,496.25 163.24,492.08 168.19,490 173.15,485.83 178.1,482.5 183.06,476.67 188.02,472.75 192.97,471.08 197.93,473.58 202.88,478.75 207.84,484.58 212.79,492.08 217.75,499.58 222.7,507.5 227.66,511.25 232.61,512.75 237.56,514.42 242.52,521.08 247.47,533.5 252.43,543.92 257.38,549.92 262.34,548.08 267.3,542.25 272.25,529.17 277.21,512.08 282.16,494.17 287.12,483.08 292.07,480.17 297.02,482.67 301.98,485.83 306.94,486.25 311.89,484.33 316.85,480.17 321.8,477.5 326.75,477.75 331.71,481.5 336.67,485.58 341.62,487.42 346.57,485.33 351.53,480 356.49,476.5 361.44,475.25 366.39,476.25 371.35,475.42 376.31,473.75 381.26,472.08 386.22,470.42 391.17,472.33 396.12,476.5 401.08,484 406.04,491.92 410.99,496.33 415.94,496.33 420.9,487.75 425.86,480.67 430.81,478.58 435.76,486.08 440.72,494.83 445.68,499.42 450.63,496.08 455.58,490 460.54,484.33 465.5,482 470.45,483.25 475.41,486.42 480.36,492.92 485.31,491.67 490.27,486.25 495.23,477.08 500.18,474.17 505.13,475.17 510.09,477.67 515.05,481.25 520,484.42 524.95,485.25 529.91,481.25 534.87,476 539.82,472.23 544.77,472.06 549.73,481.27 554.69,495.62 559.64,517.69 564.6,526.6 569.55,527.59 574.5,512.74 579.46,497.9 584.41,483.55 589.37,474.44 594.33,470.19 599.28,468.7 604.24,469.89 609.19,470.68 614.14,470.88 619.1,470.68 624.06,471.97 629.01,475.23 633.97,482.06 638.92,490.97 643.88,498.19 648.83,505.42 653.78,513.04 658.74,521.95 663.7,523.63 668.65,521.16 673.61,522.15 678.56,526.7 683.51,528.68 688.47,520.96 693.42,508.78 698.38,495.42 703.34,484.54 708.29,476.62 713.25,472.46" fill="none" stroke="#e8202a" stroke-width="1.3" stroke-linejoin="round"/>
<polyline points="24.5,468.5 29.45,468.5 34.41,468.5 39.37,468 44.32,472.7 49.27,466.5 54.23,471.25 59.19,487.5 64.14,507.5 69.09,535 74.05,540 79,549.5 83.96,546.25 88.92,546.25 93.87,537.5 98.83,532.5 103.78,535 108.73,543.75 113.69,547.5 118.64,545 123.6,547.5 128.56,547.5 133.51,541.25 138.47,522.5 143.42,508.75 148.38,500 153.33,495 158.28,493.75 163.24,487.5 168.19,488.75 173.15,481.25 178.1,477.5 183.06,471.25 188.02,469.5 192.97,472.5 197.93,478.75 202.88,485 207.84,490 212.79,501.25 217.75,507.5 222.7,513.75 227.66,512.5 232.61,512 237.56,518.75 242.52,532.5 247.47,549.25 252.43,550 257.38,550.5 262.34,543.75 267.3,532.5 272.25,511.25 277.21,492.5 282.16,478.75 287.12,478 292.07,483.75 297.02,486.25 301.98,487.5 306.94,485 311.89,480.5 316.85,475 321.8,477 326.75,481.25 331.71,486.25 336.67,489.25 341.62,486.75 346.57,480 351.53,473.25 356.49,476.25 361.44,476.25 366.39,476.25 371.35,473.75 376.31,471.25 381.26,471.25 386.22,468.75 391.17,477 396.12,483.75 401.08,491.25 406.04,500.75 410.99,497 415.94,491.25 420.9,475 425.86,475.75 430.81,485 435.76,497.5 440.72,502 445.68,498.75 450.63,487.5 455.58,483.75 460.54,481.75 465.5,480.5 470.45,487.5 475.41,491.25 480.36,500 485.31,483.75 490.27,475 495.23,472.5 500.18,475 505.13,478 510.09,480 515.05,485.75 520,487.5 524.95,482.5 529.91,473.75 534.87,471.75 539.82,471.18 544.77,473.25 549.73,499.38 554.69,514.23 559.64,539.47 564.6,526.1 569.55,517.2 574.5,494.93 579.46,481.57 584.41,474.14 589.37,467.61 594.33,468.8 599.28,469.69 604.24,471.18 609.19,471.18 614.14,470.29 619.1,470.58 624.06,475.04 629.01,480.08 633.97,491.07 638.92,501.76 643.88,501.76 648.83,512.74 653.78,524.62 658.74,528.48 663.7,517.79 668.65,517.2 673.61,531.45 678.56,531.45 683.51,523.14 688.47,508.29 693.42,494.93 698.38,483.05 703.34,475.63 708.29,471.18 713.25,470.58" fill="none" stroke="#161616" stroke-width="1.75" stroke-linejoin="round"/>
<rect x="23.5" y="460" width="226" height="11" fill="#fff"/>
<path d="M22.5 472 L25.5 471.3" stroke="#e8202a" stroke-width="1.3"/>
<line x1="25.5" y1="465" x2="33.5" y2="465" stroke="#111" stroke-width="2"/>
<text x="37" y="468.9" font-size="9.2" fill="#0c0c0c" font-family='"DejaVu Sans", sans-serif' textLength="210" lengthAdjust="spacing">Slow STO %K(14) %D(3) 95.09, <tspan fill="#e8202a">93.07</tspan></text>
<rect x="22.5" y="458.75" width="698.0" height="107.0" fill="none" stroke="#9a9a9a"/>
<text x="723.8" y="488" font-size="10.3" fill="#1a1a1a">80</text>
<text x="723.8" y="516.12" font-size="10.3" fill="#1a1a1a">50</text>
<text x="723.8" y="544.25" font-size="10.3" fill="#1a1a1a">20</text>
<path d="M717.3 472 L721 467.5 H751 V476.2 H721 Z" fill="#fff" stroke="#e8202a" stroke-width="1.2"/>
<path d="M717.3 469.4 L721.4 465.3 H751 V473.5 H721.4 Z" fill="#fff" stroke="#222" stroke-width="1.2" stroke-linejoin="miter"/>
<text x="723" y="473.05" font-size="10.2" fill="#0c0c0c"  textLength="25.73" lengthAdjust="spacingAndGlyphs">95.09</text>
<path d="M24.5 566.25v1.3M29.45 566.25v1.3M34.41 566.25v1.3M39.37 566.25v1.3M44.32 566.25v2.2M49.27 566.25v1.3M54.23 566.25v1.3M59.19 566.25v1.3M64.14 566.25v1.3M69.09 566.25v2.2M74.05 566.25v1.3M79 566.25v1.3M83.96 566.25v1.3M88.92 566.25v2.2M93.87 566.25v1.3M98.83 566.25v1.3M103.78 566.25v1.3M108.73 566.25v1.3M113.69 566.25v2.2M118.64 566.25v1.3M123.6 566.25v1.3M128.56 566.25v1.3M133.51 566.25v1.3M138.47 566.25v2.2M143.42 566.25v1.3M148.38 566.25v1.3M153.33 566.25v1.3M158.28 566.25v1.3M163.24 566.25v2.2M168.19 566.25v1.3M173.15 566.25v1.3M178.1 566.25v1.3M183.06 566.25v1.3M188.02 566.25v2.2M192.97 566.25v1.3M197.93 566.25v1.3M202.88 566.25v1.3M207.84 566.25v1.3M212.79 566.25v2.2M217.75 566.25v1.3M222.7 566.25v1.3M227.66 566.25v1.3M232.61 566.25v1.3M237.56 566.25v2.2M242.52 566.25v1.3M247.47 566.25v1.3M252.43 566.25v1.3M257.38 566.25v1.3M262.34 566.25v2.2M267.3 566.25v1.3M272.25 566.25v1.3M277.21 566.25v1.3M282.16 566.25v1.3M287.12 566.25v2.2M292.07 566.25v1.3M297.02 566.25v1.3M301.98 566.25v1.3M306.94 566.25v1.3M311.89 566.25v2.2M316.85 566.25v1.3M321.8 566.25v1.3M326.75 566.25v1.3M331.71 566.25v1.3M336.67 566.25v2.2M341.62 566.25v1.3M346.57 566.25v1.3M351.53 566.25v1.3M356.49 566.25v2.2M361.44 566.25v1.3M366.39 566.25v1.3M371.35 566.25v1.3M376.31 566.25v1.3M381.26 566.25v2.2M386.22 566.25v1.3M391.17 566.25v1.3M396.12 566.25v1.3M401.08 566.25v1.3M406.04 566.25v2.2M410.99 566.25v1.3M415.94 566.25v1.3M420.9 566.25v1.3M425.86 566.25v1.3M430.81 566.25v2.2M435.76 566.25v1.3M440.72 566.25v1.3M445.68 566.25v1.3M450.63 566.25v2.2M455.58 566.25v1.3M460.54 566.25v1.3M465.5 566.25v1.3M470.45 566.25v2.2M475.41 566.25v1.3M480.36 566.25v1.3M485.31 566.25v1.3M490.27 566.25v1.3M495.23 566.25v2.2M500.18 566.25v1.3M505.13 566.25v1.3M510.09 566.25v1.3M515.05 566.25v1.3M520 566.25v2.2M524.95 566.25v1.3M529.91 566.25v1.3M534.87 566.25v1.3M539.82 566.25v2.2M544.77 566.25v1.3M549.73 566.25v1.3M554.69 566.25v1.3M559.64 566.25v1.3M564.6 566.25v2.2M569.55 566.25v1.3M574.5 566.25v1.3M579.46 566.25v1.3M584.41 566.25v1.3M589.37 566.25v2.2M594.33 566.25v1.3M599.28 566.25v1.3M604.24 566.25v1.3M609.19 566.25v1.3M614.14 566.25v2.2M619.1 566.25v1.3M624.06 566.25v1.3M629.01 566.25v1.3M633.97 566.25v2.2M638.92 566.25v1.3M643.88 566.25v1.3M648.83 566.25v1.3M653.78 566.25v1.3M658.74 566.25v2.2M663.7 566.25v1.3M668.65 566.25v1.3M673.61 566.25v1.3M678.56 566.25v1.3M683.51 566.25v2.2M688.47 566.25v1.3M693.42 566.25v1.3M698.38 566.25v1.3M703.34 566.25v1.3M708.29 566.25v2.2M713.25 566.25v1.3" stroke="#9a9a9a" stroke-width="0.9"/>
<text x="48.27" y="576.2" text-anchor="middle" font-size="10.3" font-weight="bold" fill="#080808">Sep</text>
<text x="68.09" y="576.2" text-anchor="middle" font-size="10"  fill="#080808">8</text>
<text x="87.92" y="576.2" text-anchor="middle" font-size="10"  fill="#080808">14</text>
<text x="112.69" y="576.2" text-anchor="middle" font-size="10"  fill="#080808">21</text>
<text x="136.27" y="576.2" text-anchor="middle" font-size="10"  fill="#080808">28</text>
<text x="152.33" y="576.2" text-anchor="middle" font-size="10.3" font-weight="bold" fill="#080808">Oct</text>
<text x="187.02" y="576.2" text-anchor="middle" font-size="10"  fill="#080808">12</text>
<text x="211.79" y="576.2" text-anchor="middle" font-size="10"  fill="#080808">19</text>
<text x="236.56" y="576.2" text-anchor="middle" font-size="10"  fill="#080808">26</text>
<text x="261.34" y="576.2" text-anchor="middle" font-size="10.3" font-weight="bold" fill="#080808">Nov</text>
<text x="286.12" y="576.2" text-anchor="middle" font-size="10"  fill="#080808">9</text>
<text x="310.89" y="576.2" text-anchor="middle" font-size="10"  fill="#080808">16</text>
<text x="335.67" y="576.2" text-anchor="middle" font-size="10"  fill="#080808">23</text>
<text x="360.44" y="576.2" text-anchor="middle" font-size="10.3" font-weight="bold" fill="#080808">Dec</text>
<text x="380.26" y="576.2" text-anchor="middle" font-size="10"  fill="#080808">7</text>
<text x="405.04" y="576.2" text-anchor="middle" font-size="10"  fill="#080808">14</text>
<text x="429.81" y="576.2" text-anchor="middle" font-size="10"  fill="#080808">21</text>
<text x="448.43" y="576.2" text-anchor="middle" font-size="10"  fill="#080808">28</text>
<text x="469.75" y="576.2" text-anchor="middle" font-size="10.3" font-weight="bold" fill="#080808">2021</text>
<text x="494.23" y="576.2" text-anchor="middle" font-size="10"  fill="#080808">11</text>
<text x="519" y="576.2" text-anchor="middle" font-size="10"  fill="#080808">19</text>
<text x="538.82" y="576.2" text-anchor="middle" font-size="10"  fill="#080808">25</text>
<text x="563.6" y="576.2" text-anchor="middle" font-size="10.3" font-weight="bold" fill="#080808">Feb</text>
<text x="588.37" y="576.2" text-anchor="middle" font-size="10"  fill="#080808">8</text>
<text x="613.14" y="576.2" text-anchor="middle" font-size="10"  fill="#080808">16</text>
<text x="632.97" y="576.2" text-anchor="middle" font-size="10"  fill="#080808">22</text>
<text x="657.74" y="576.2" text-anchor="middle" font-size="10.3" font-weight="bold" fill="#080808">Mar</text>
<text x="682.51" y="576.2" text-anchor="middle" font-size="10"  fill="#080808">8</text>
<text x="707.29" y="576.2" text-anchor="middle" font-size="10"  fill="#080808">15</text>
</g></svg></body></html>
